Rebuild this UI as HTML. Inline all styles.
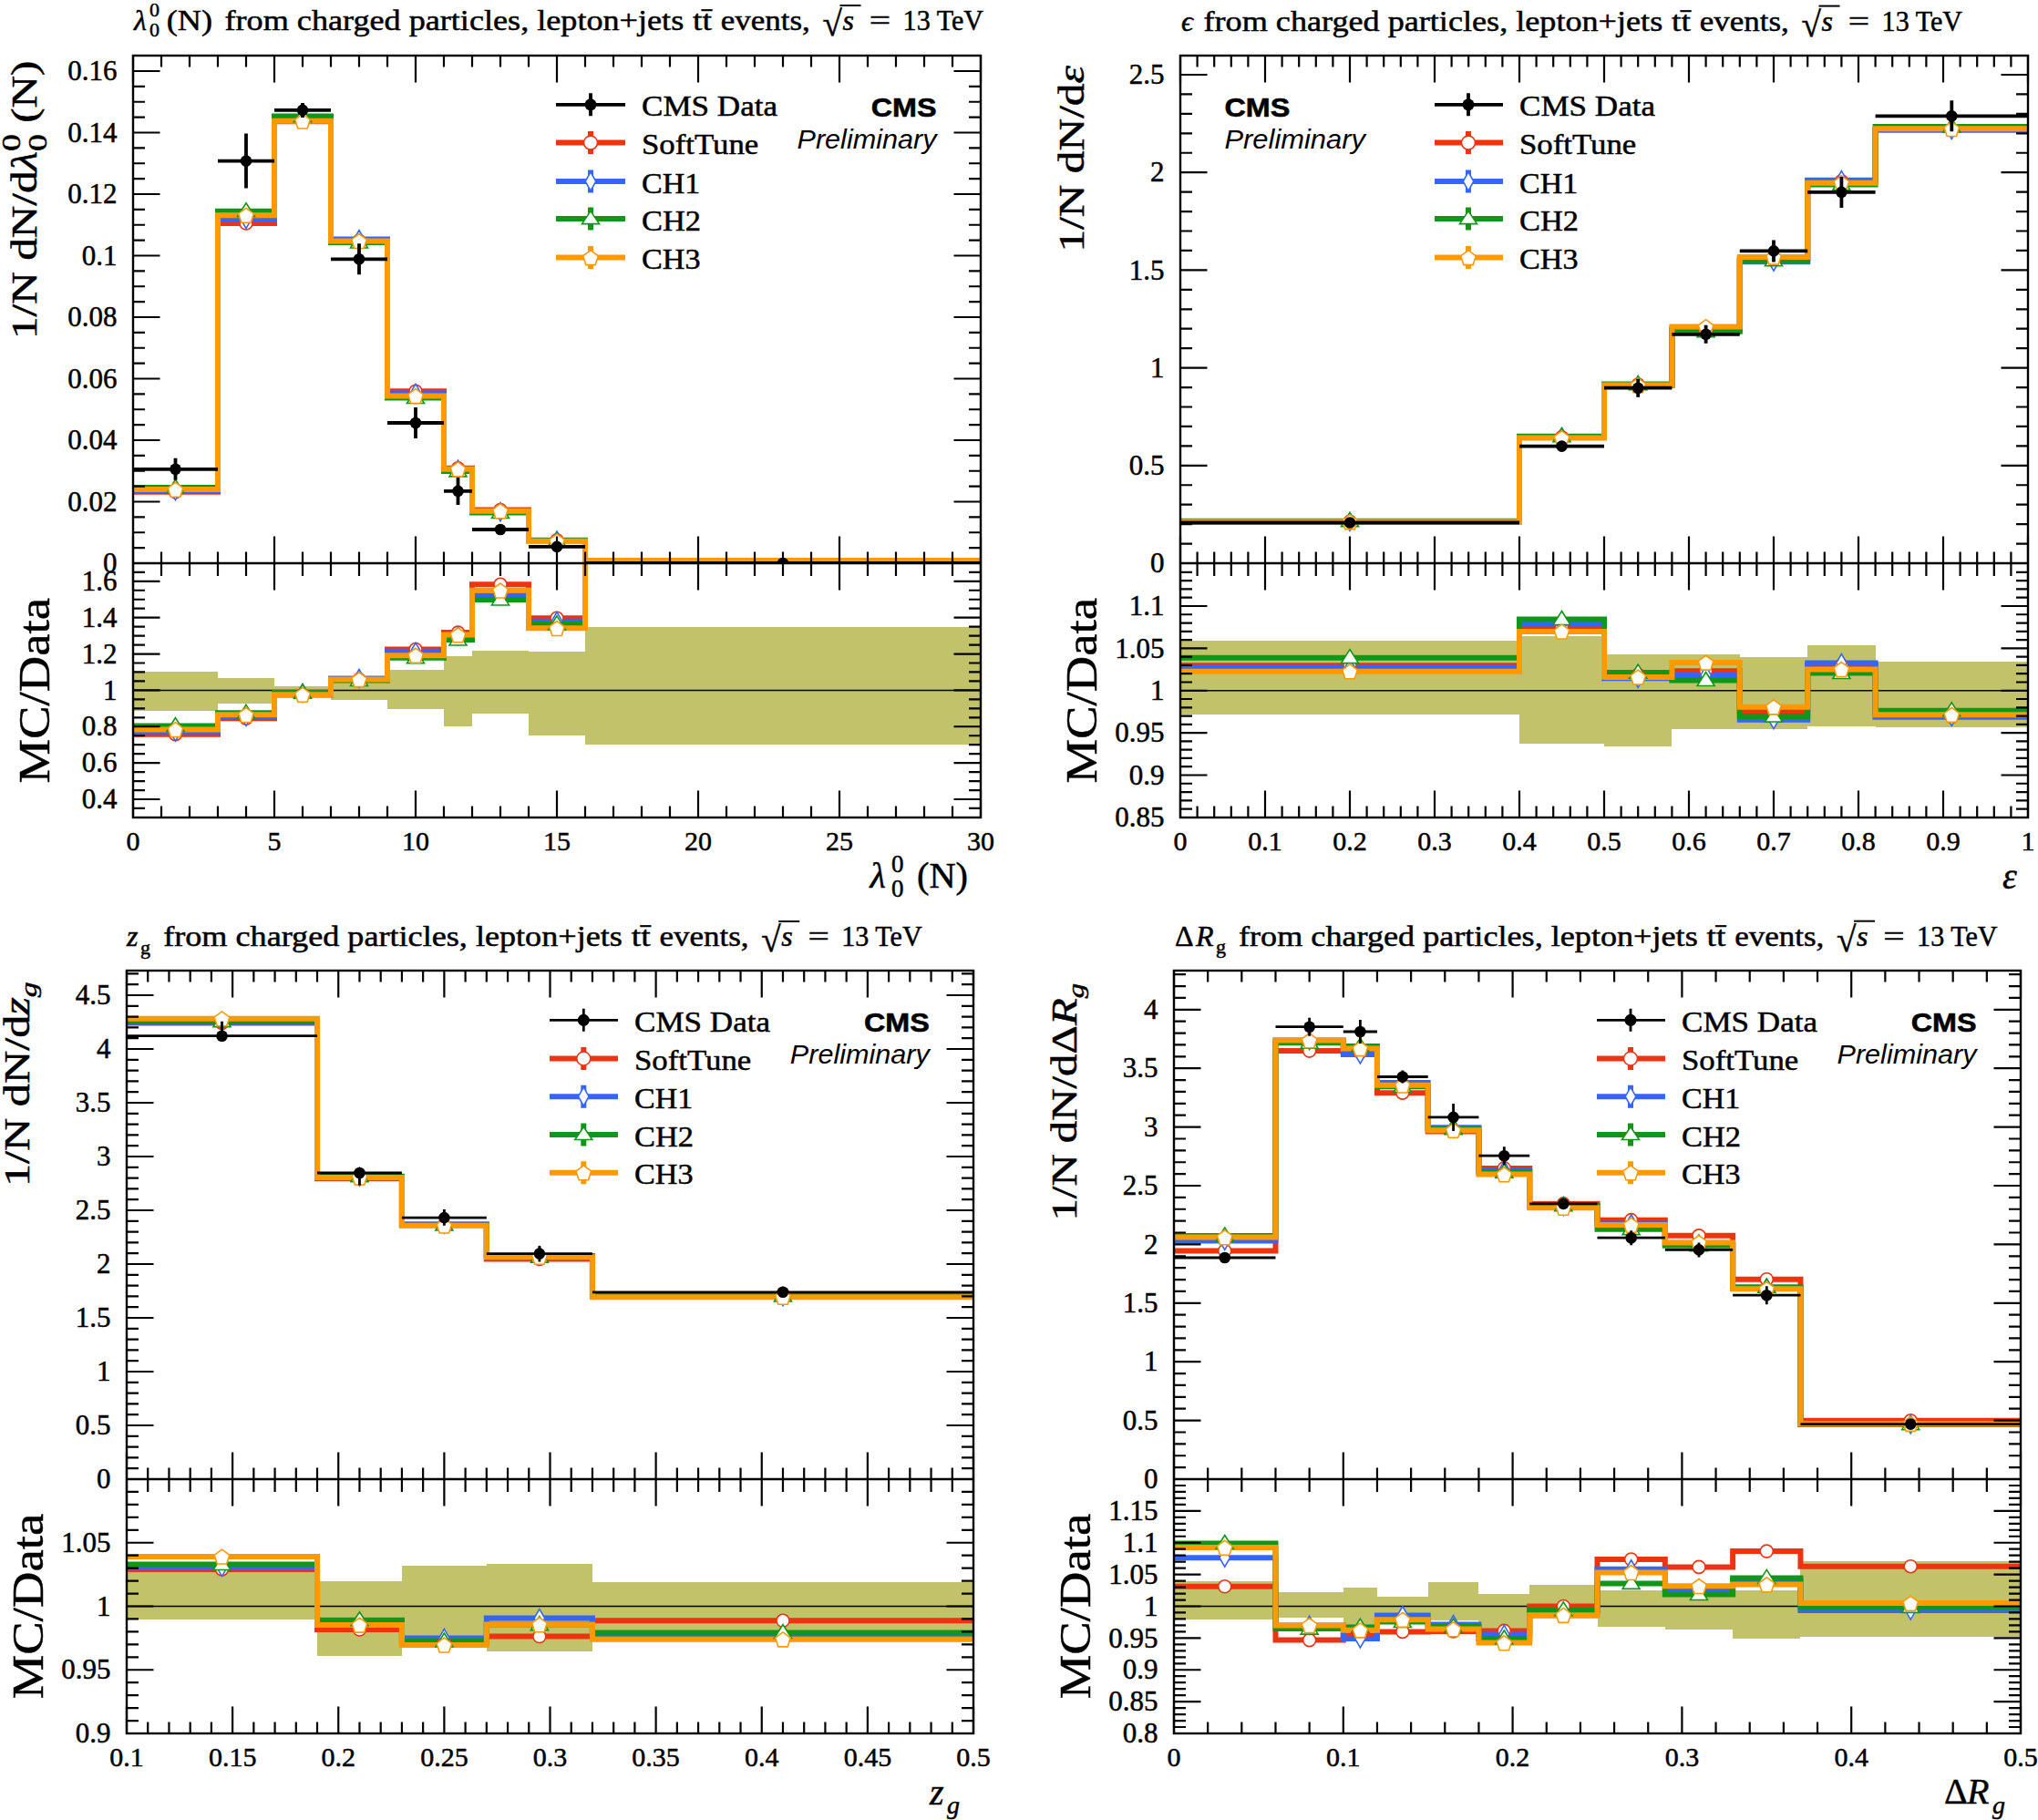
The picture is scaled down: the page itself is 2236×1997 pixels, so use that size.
<!DOCTYPE html><html><head><meta charset="utf-8"><style>html,body{margin:0;padding:0;background:#fff;overflow:hidden}svg{display:block} text{stroke:#000;stroke-width:0.5px}</style></head><body><svg width="2236" height="1997" viewBox="0 0 2236 1997">
<rect width="2236" height="1997" fill="#fff"/>
<clipPath id="cmTL"><rect x="146" y="61" width="930" height="557"/></clipPath>
<clipPath id="crTL"><rect x="146" y="618" width="930" height="279"/></clipPath>
<g clip-path="url(#crTL)" fill="#C2C26A" shape-rendering="crispEdges"><rect x="146" y="737.2" width="93" height="43.2"/><rect x="239" y="744.3" width="62" height="27.3"/><rect x="301" y="753" width="62" height="8"/><rect x="363" y="746" width="62" height="21.7"/><rect x="425" y="734.5" width="62" height="43"/><rect x="487" y="720" width="31" height="76.8"/><rect x="518" y="714.1" width="62" height="68.7"/><rect x="580" y="715" width="62" height="91.6"/><rect x="642" y="688.2" width="434" height="128.6"/></g>
<line x1="146" x2="1076" y1="757.4" y2="757.4" stroke="#000" stroke-width="1.5"/>
<path clip-path="url(#cmTL)" d="M146,539.83L239,539.83L239,245.02L301,245.02L301,133.33L363,133.33L363,264.28L425,264.28L425,429.35L487,429.35L487,513.79L518,513.79L518,559.45L580,559.45L580,592.71L642,592.71L642,614.96L1076,614.96" fill="none" stroke="#EE3311" stroke-width="6" stroke-linejoin="miter"/>
<path clip-path="url(#crTL)" d="M146,805.74L239,805.74L239,788.3L301,788.3L301,762.38L363,762.38L363,745.44L425,745.44L425,712.55L487,712.55L487,694.11L518,694.11L518,641.29L580,641.29L580,678.27L642,678.27L642,418L1076,418" fill="none" stroke="#EE3311" stroke-width="6" stroke-linejoin="miter"/>
<path clip-path="url(#cmTL)" d="M146,538.54L239,538.54L239,240.6L301,240.6L301,128.36L363,128.36L363,262.61L425,262.61L425,431.43L487,431.43L487,515.17L518,515.17L518,561.65L580,561.65L580,593.02L642,593.02L642,614.96L1076,614.96" fill="none" stroke="#3366FF" stroke-width="6" stroke-linejoin="miter"/>
<path clip-path="url(#crTL)" d="M146,803.25L239,803.25L239,786.3L301,786.3L301,760.39L363,760.39L363,744.44L425,744.44L425,715.24L487,715.24L487,697.6L518,697.6L518,653.15L580,653.15L580,681.65L642,681.65L642,418L1076,418" fill="none" stroke="#3366FF" stroke-width="6" stroke-linejoin="miter"/>
<path clip-path="url(#cmTL)" d="M146,535.08L239,535.08L239,231.78L301,231.78L301,127.61L363,127.61L363,265.95L425,265.95L425,436.51L487,436.51L487,516.91L518,516.91L518,562.54L580,562.54L580,593.31L642,593.31L642,614.96L1076,614.96" fill="none" stroke="#109618" stroke-width="6" stroke-linejoin="miter"/>
<path clip-path="url(#crTL)" d="M146,796.57L239,796.57L239,782.32L301,782.32L301,760.09L363,760.09L363,746.44L425,746.44L425,721.82L487,721.82L487,701.99L518,701.99L518,657.93L580,657.93L580,684.84L642,684.84L642,418L1076,418" fill="none" stroke="#109618" stroke-width="6" stroke-linejoin="miter"/>
<path clip-path="url(#cmTL)" d="M146,537.09L239,537.09L239,236.19L301,236.19L301,132.83L363,132.83L363,264.44L425,264.44L425,434.43L487,434.43L487,514.77L518,514.77L518,560.67L580,560.67L580,593.72L642,593.72L642,614.96L1076,614.96" fill="none" stroke="#FF9900" stroke-width="6" stroke-linejoin="miter"/>
<path clip-path="url(#crTL)" d="M146,800.46L239,800.46L239,784.31L301,784.31L301,762.18L363,762.18L363,745.54L425,745.54L425,719.13L487,719.13L487,696.6L518,696.6L518,647.87L580,647.87L580,689.33L642,689.33L642,418L1076,418" fill="none" stroke="#FF9900" stroke-width="6" stroke-linejoin="miter"/>
<g clip-path="url(#cmTL)"><circle cx="192.5" cy="539.83" r="7" fill="#fff" stroke="#EE3311" stroke-width="1.6"/><circle cx="270" cy="245.02" r="7" fill="#fff" stroke="#EE3311" stroke-width="1.6"/><circle cx="332" cy="133.33" r="7" fill="#fff" stroke="#EE3311" stroke-width="1.6"/><circle cx="394" cy="264.28" r="7" fill="#fff" stroke="#EE3311" stroke-width="1.6"/><circle cx="456" cy="429.35" r="7" fill="#fff" stroke="#EE3311" stroke-width="1.6"/><circle cx="502.5" cy="513.79" r="7" fill="#fff" stroke="#EE3311" stroke-width="1.6"/><circle cx="549" cy="559.45" r="7" fill="#fff" stroke="#EE3311" stroke-width="1.6"/><circle cx="611" cy="592.71" r="7" fill="#fff" stroke="#EE3311" stroke-width="1.6"/></g>
<g clip-path="url(#crTL)"><circle cx="192.5" cy="805.74" r="7" fill="#fff" stroke="#EE3311" stroke-width="1.6"/><circle cx="270" cy="788.3" r="7" fill="#fff" stroke="#EE3311" stroke-width="1.6"/><circle cx="332" cy="762.38" r="7" fill="#fff" stroke="#EE3311" stroke-width="1.6"/><circle cx="394" cy="745.44" r="7" fill="#fff" stroke="#EE3311" stroke-width="1.6"/><circle cx="456" cy="712.55" r="7" fill="#fff" stroke="#EE3311" stroke-width="1.6"/><circle cx="502.5" cy="694.11" r="7" fill="#fff" stroke="#EE3311" stroke-width="1.6"/><circle cx="549" cy="641.29" r="7" fill="#fff" stroke="#EE3311" stroke-width="1.6"/><circle cx="611" cy="678.27" r="7" fill="#fff" stroke="#EE3311" stroke-width="1.6"/></g>
<g clip-path="url(#cmTL)"><path d="M192.5,528.54L198.3,538.54L192.5,548.54L186.7,538.54Z" fill="#fff" stroke="#3366FF" stroke-width="1.6"/><path d="M270,230.6L275.8,240.6L270,250.6L264.2,240.6Z" fill="#fff" stroke="#3366FF" stroke-width="1.6"/><path d="M332,118.36L337.8,128.36L332,138.36L326.2,128.36Z" fill="#fff" stroke="#3366FF" stroke-width="1.6"/><path d="M394,252.61L399.8,262.61L394,272.61L388.2,262.61Z" fill="#fff" stroke="#3366FF" stroke-width="1.6"/><path d="M456,421.43L461.8,431.43L456,441.43L450.2,431.43Z" fill="#fff" stroke="#3366FF" stroke-width="1.6"/><path d="M502.5,505.17L508.3,515.17L502.5,525.17L496.7,515.17Z" fill="#fff" stroke="#3366FF" stroke-width="1.6"/><path d="M549,551.65L554.8,561.65L549,571.65L543.2,561.65Z" fill="#fff" stroke="#3366FF" stroke-width="1.6"/><path d="M611,583.02L616.8,593.02L611,603.02L605.2,593.02Z" fill="#fff" stroke="#3366FF" stroke-width="1.6"/></g>
<g clip-path="url(#crTL)"><path d="M192.5,793.25L198.3,803.25L192.5,813.25L186.7,803.25Z" fill="#fff" stroke="#3366FF" stroke-width="1.6"/><path d="M270,776.3L275.8,786.3L270,796.3L264.2,786.3Z" fill="#fff" stroke="#3366FF" stroke-width="1.6"/><path d="M332,750.39L337.8,760.39L332,770.39L326.2,760.39Z" fill="#fff" stroke="#3366FF" stroke-width="1.6"/><path d="M394,734.44L399.8,744.44L394,754.44L388.2,744.44Z" fill="#fff" stroke="#3366FF" stroke-width="1.6"/><path d="M456,705.24L461.8,715.24L456,725.24L450.2,715.24Z" fill="#fff" stroke="#3366FF" stroke-width="1.6"/><path d="M502.5,687.6L508.3,697.6L502.5,707.6L496.7,697.6Z" fill="#fff" stroke="#3366FF" stroke-width="1.6"/><path d="M549,643.15L554.8,653.15L549,663.15L543.2,653.15Z" fill="#fff" stroke="#3366FF" stroke-width="1.6"/><path d="M611,671.65L616.8,681.65L611,691.65L605.2,681.65Z" fill="#fff" stroke="#3366FF" stroke-width="1.6"/></g>
<g clip-path="url(#cmTL)"><path d="M192.5,526.08L202,541.08L183,541.08Z" fill="#fff" stroke="#109618" stroke-width="1.6"/><path d="M270,222.78L279.5,237.78L260.5,237.78Z" fill="#fff" stroke="#109618" stroke-width="1.6"/><path d="M332,118.61L341.5,133.61L322.5,133.61Z" fill="#fff" stroke="#109618" stroke-width="1.6"/><path d="M394,256.95L403.5,271.95L384.5,271.95Z" fill="#fff" stroke="#109618" stroke-width="1.6"/><path d="M456,427.51L465.5,442.51L446.5,442.51Z" fill="#fff" stroke="#109618" stroke-width="1.6"/><path d="M502.5,507.91L512,522.91L493,522.91Z" fill="#fff" stroke="#109618" stroke-width="1.6"/><path d="M549,553.54L558.5,568.54L539.5,568.54Z" fill="#fff" stroke="#109618" stroke-width="1.6"/><path d="M611,584.31L620.5,599.31L601.5,599.31Z" fill="#fff" stroke="#109618" stroke-width="1.6"/></g>
<g clip-path="url(#crTL)"><path d="M192.5,787.57L202,802.57L183,802.57Z" fill="#fff" stroke="#109618" stroke-width="1.6"/><path d="M270,773.32L279.5,788.32L260.5,788.32Z" fill="#fff" stroke="#109618" stroke-width="1.6"/><path d="M332,751.09L341.5,766.09L322.5,766.09Z" fill="#fff" stroke="#109618" stroke-width="1.6"/><path d="M394,737.44L403.5,752.44L384.5,752.44Z" fill="#fff" stroke="#109618" stroke-width="1.6"/><path d="M456,712.82L465.5,727.82L446.5,727.82Z" fill="#fff" stroke="#109618" stroke-width="1.6"/><path d="M502.5,692.99L512,707.99L493,707.99Z" fill="#fff" stroke="#109618" stroke-width="1.6"/><path d="M549,648.93L558.5,663.93L539.5,663.93Z" fill="#fff" stroke="#109618" stroke-width="1.6"/><path d="M611,675.84L620.5,690.84L601.5,690.84Z" fill="#fff" stroke="#109618" stroke-width="1.6"/></g>
<g clip-path="url(#cmTL)"><path d="M192.5,529.29L200.87,535.37L197.67,545.21L187.33,545.21L184.13,535.37Z" fill="#fff" stroke="#FF9900" stroke-width="1.6"/><path d="M270,228.39L278.37,234.47L275.17,244.31L264.83,244.31L261.63,234.47Z" fill="#fff" stroke="#FF9900" stroke-width="1.6"/><path d="M332,125.03L340.37,131.11L337.17,140.95L326.83,140.95L323.63,131.11Z" fill="#fff" stroke="#FF9900" stroke-width="1.6"/><path d="M394,256.64L402.37,262.73L399.17,272.56L388.83,272.56L385.63,262.73Z" fill="#fff" stroke="#FF9900" stroke-width="1.6"/><path d="M456,426.63L464.37,432.71L461.17,442.55L450.83,442.55L447.63,432.71Z" fill="#fff" stroke="#FF9900" stroke-width="1.6"/><path d="M502.5,506.97L510.87,513.06L507.67,522.89L497.33,522.89L494.13,513.06Z" fill="#fff" stroke="#FF9900" stroke-width="1.6"/><path d="M549,552.87L557.37,558.95L554.17,568.79L543.83,568.79L540.63,558.95Z" fill="#fff" stroke="#FF9900" stroke-width="1.6"/><path d="M611,585.92L619.37,592L616.17,601.84L605.83,601.84L602.63,592Z" fill="#fff" stroke="#FF9900" stroke-width="1.6"/></g>
<g clip-path="url(#crTL)"><path d="M192.5,792.66L200.87,798.74L197.67,808.57L187.33,808.57L184.13,798.74Z" fill="#fff" stroke="#FF9900" stroke-width="1.6"/><path d="M270,776.51L278.37,782.59L275.17,792.43L264.83,792.43L261.63,782.59Z" fill="#fff" stroke="#FF9900" stroke-width="1.6"/><path d="M332,754.38L340.37,760.46L337.17,770.3L326.83,770.3L323.63,760.46Z" fill="#fff" stroke="#FF9900" stroke-width="1.6"/><path d="M394,737.74L402.37,743.82L399.17,753.66L388.83,753.66L385.63,743.82Z" fill="#fff" stroke="#FF9900" stroke-width="1.6"/><path d="M456,711.33L464.37,717.41L461.17,727.25L450.83,727.25L447.63,717.41Z" fill="#fff" stroke="#FF9900" stroke-width="1.6"/><path d="M502.5,688.8L510.87,694.89L507.67,704.72L497.33,704.72L494.13,694.89Z" fill="#fff" stroke="#FF9900" stroke-width="1.6"/><path d="M549,640.07L557.37,646.15L554.17,655.99L543.83,655.99L540.63,646.15Z" fill="#fff" stroke="#FF9900" stroke-width="1.6"/><path d="M611,681.53L619.37,687.61L616.17,697.45L605.83,697.45L602.63,687.61Z" fill="#fff" stroke="#FF9900" stroke-width="1.6"/></g>
<g clip-path="url(#cmTL)"><path d="M146,514.8H239M192.5,502.8V526.8" stroke="#000" stroke-width="3.8" fill="none"/><circle cx="192.5" cy="514.8" r="6.3" fill="#000"/><path d="M239,176.6H301M270,146.6V206.6" stroke="#000" stroke-width="3.8" fill="none"/><circle cx="270" cy="176.6" r="6.3" fill="#000"/><path d="M301,120.9H363M332,112.9V128.9" stroke="#000" stroke-width="3.8" fill="none"/><circle cx="332" cy="120.9" r="6.3" fill="#000"/><path d="M363,284.3H425M394,267.3V301.3" stroke="#000" stroke-width="3.8" fill="none"/><circle cx="394" cy="284.3" r="6.3" fill="#000"/><path d="M425,464H487M456,447V481" stroke="#000" stroke-width="3.8" fill="none"/><circle cx="456" cy="464" r="6.3" fill="#000"/><path d="M487,538.9H518M502.5,523.9V553.9" stroke="#000" stroke-width="3.8" fill="none"/><circle cx="502.5" cy="538.9" r="6.3" fill="#000"/><path d="M518,581H580M549,576V586" stroke="#000" stroke-width="3.8" fill="none"/><circle cx="549" cy="581" r="6.3" fill="#000"/><path d="M580,599.9H642M611,595.9V603.9" stroke="#000" stroke-width="3.8" fill="none"/><circle cx="611" cy="599.9" r="6.3" fill="#000"/><path d="M642,618H1076M859,618V618" stroke="#000" stroke-width="3.8" fill="none"/><circle cx="859" cy="618" r="6.3" fill="#000"/></g>
<path d="M146,897V867.5M146,61V90.5M146,588.5V647.5M177,897V884.5M177,61V73.5M177,605.5V632M208,897V884.5M208,61V73.5M208,605.5V632M239,897V884.5M239,61V73.5M239,605.5V632M270,897V884.5M270,61V73.5M270,605.5V632M301,897V867.5M301,61V90.5M301,588.5V647.5M332,897V884.5M332,61V73.5M332,605.5V632M363,897V884.5M363,61V73.5M363,605.5V632M394,897V884.5M394,61V73.5M394,605.5V632M425,897V884.5M425,61V73.5M425,605.5V632M456,897V867.5M456,61V90.5M456,588.5V647.5M487,897V884.5M487,61V73.5M487,605.5V632M518,897V884.5M518,61V73.5M518,605.5V632M549,897V884.5M549,61V73.5M549,605.5V632M580,897V884.5M580,61V73.5M580,605.5V632M611,897V867.5M611,61V90.5M611,588.5V647.5M642,897V884.5M642,61V73.5M642,605.5V632M673,897V884.5M673,61V73.5M673,605.5V632M704,897V884.5M704,61V73.5M704,605.5V632M735,897V884.5M735,61V73.5M735,605.5V632M766,897V867.5M766,61V90.5M766,588.5V647.5M797,897V884.5M797,61V73.5M797,605.5V632M828,897V884.5M828,61V73.5M828,605.5V632M859,897V884.5M859,61V73.5M859,605.5V632M890,897V884.5M890,61V73.5M890,605.5V632M921,897V867.5M921,61V90.5M921,588.5V647.5M952,897V884.5M952,61V73.5M952,605.5V632M983,897V884.5M983,61V73.5M983,605.5V632M1014,897V884.5M1014,61V73.5M1014,605.5V632M1045,897V884.5M1045,61V73.5M1045,605.5V632M1076,897V867.5M1076,61V90.5M1076,588.5V647.5M146,601.12H159M1076,601.12H1063M146,584.25H159M1076,584.25H1063M146,567.38H159M1076,567.38H1063M146,550.5H175.5M1076,550.5H1046.5M146,533.62H159M1076,533.62H1063M146,516.75H159M1076,516.75H1063M146,499.88H159M1076,499.88H1063M146,483H175.5M1076,483H1046.5M146,466.12H159M1076,466.12H1063M146,449.25H159M1076,449.25H1063M146,432.38H159M1076,432.38H1063M146,415.5H175.5M1076,415.5H1046.5M146,398.62H159M1076,398.62H1063M146,381.75H159M1076,381.75H1063M146,364.88H159M1076,364.88H1063M146,348H175.5M1076,348H1046.5M146,331.12H159M1076,331.12H1063M146,314.25H159M1076,314.25H1063M146,297.38H159M1076,297.38H1063M146,280.5H175.5M1076,280.5H1046.5M146,263.62H159M1076,263.62H1063M146,246.75H159M1076,246.75H1063M146,229.88H159M1076,229.88H1063M146,213H175.5M1076,213H1046.5M146,196.12H159M1076,196.12H1063M146,179.25H159M1076,179.25H1063M146,162.37H159M1076,162.37H1063M146,145.5H175.5M1076,145.5H1046.5M146,128.63H159M1076,128.63H1063M146,111.75H159M1076,111.75H1063M146,94.88H159M1076,94.88H1063M146,78H175.5M1076,78H1046.5M146,886.96H159M1076,886.96H1063M146,877H175.5M1076,877H1046.5M146,867.03H159M1076,867.03H1063M146,857.06H159M1076,857.06H1063M146,847.1H159M1076,847.1H1063M146,837.13H175.5M1076,837.13H1046.5M146,827.17H159M1076,827.17H1063M146,817.2H159M1076,817.2H1063M146,807.23H159M1076,807.23H1063M146,797.27H175.5M1076,797.27H1046.5M146,787.3H159M1076,787.3H1063M146,777.33H159M1076,777.33H1063M146,767.37H159M1076,767.37H1063M146,757.4H175.5M1076,757.4H1046.5M146,747.43H159M1076,747.43H1063M146,737.47H159M1076,737.47H1063M146,727.5H159M1076,727.5H1063M146,717.53H175.5M1076,717.53H1046.5M146,707.57H159M1076,707.57H1063M146,697.6H159M1076,697.6H1063M146,687.63H159M1076,687.63H1063M146,677.67H175.5M1076,677.67H1046.5M146,667.7H159M1076,667.7H1063M146,657.74H159M1076,657.74H1063M146,647.77H159M1076,647.77H1063M146,637.8H175.5M1076,637.8H1046.5M146,627.84H159M1076,627.84H1063" stroke="#000" stroke-width="2.2" fill="none"/>
<rect x="146" y="61" width="930" height="836" fill="none" stroke="#000" stroke-width="2.4"/>
<line x1="146" x2="1076" y1="618" y2="618" stroke="#000" stroke-width="2.4"/>
<g style='font-family:"Liberation Serif",serif;font-size:31px'><text x="128.5" y="628.2" text-anchor="end">0</text><text x="128.5" y="560.7" text-anchor="end">0.02</text><text x="128.5" y="493.2" text-anchor="end">0.04</text><text x="128.5" y="425.7" text-anchor="end">0.06</text><text x="128.5" y="358.2" text-anchor="end">0.08</text><text x="128.5" y="290.7" text-anchor="end">0.1</text><text x="128.5" y="223.2" text-anchor="end">0.12</text><text x="128.5" y="155.7" text-anchor="end">0.14</text><text x="128.5" y="88.2" text-anchor="end">0.16</text><text x="128.5" y="887.2" text-anchor="end">0.4</text><text x="128.5" y="847.33" text-anchor="end">0.6</text><text x="128.5" y="807.47" text-anchor="end">0.8</text><text x="128.5" y="767.6" text-anchor="end">1</text><text x="128.5" y="727.73" text-anchor="end">1.2</text><text x="128.5" y="687.87" text-anchor="end">1.4</text><text x="128.5" y="648" text-anchor="end">1.6</text><text x="146" y="932.7" text-anchor="middle" style="font-size:30px">0</text><text x="301" y="932.7" text-anchor="middle" style="font-size:30px">5</text><text x="456" y="932.7" text-anchor="middle" style="font-size:30px">10</text><text x="611" y="932.7" text-anchor="middle" style="font-size:30px">15</text><text x="766" y="932.7" text-anchor="middle" style="font-size:30px">20</text><text x="921" y="932.7" text-anchor="middle" style="font-size:30px">25</text><text x="1076" y="932.7" text-anchor="middle" style="font-size:30px">30</text></g>
<clipPath id="cmTR"><rect x="1295" y="61" width="930" height="557"/></clipPath>
<clipPath id="crTR"><rect x="1295" y="618" width="930" height="279"/></clipPath>
<g clip-path="url(#crTR)" fill="#C2C26A" shape-rendering="crispEdges"><rect x="1295" y="702.9" width="372" height="80.8"/><rect x="1667" y="697.6" width="93" height="117.9"/><rect x="1760" y="717.8" width="74.4" height="100.8"/><rect x="1834.4" y="717.8" width="74.4" height="82"/><rect x="1908.8" y="721.2" width="74.4" height="78.6"/><rect x="1983.2" y="708.1" width="74.4" height="88.8"/><rect x="2057.6" y="726.1" width="167.4" height="71.8"/></g>
<line x1="1295" x2="2225" y1="757.75" y2="757.75" stroke="#000" stroke-width="1.5"/>
<path clip-path="url(#cmTR)" d="M1295,572.18L1667,572.18L1667,479.89L1760,479.89L1760,422.07L1834.4,422.07L1834.4,360.97L1908.8,360.97L1908.8,283.66L1983.2,283.66L1983.2,198.69L2057.6,198.69L2057.6,142.56L2225,142.56" fill="none" stroke="#EE3311" stroke-width="6" stroke-linejoin="miter"/>
<path clip-path="url(#crTR)" d="M1295,730.2L1667,730.2L1667,687.63L1760,687.63L1760,740.22L1834.4,740.22L1834.4,736.23L1908.8,736.23L1908.8,780.1L1983.2,780.1L1983.2,729.92L2057.6,729.92L2057.6,786.6L2225,786.6" fill="none" stroke="#EE3311" stroke-width="6" stroke-linejoin="miter"/>
<path clip-path="url(#cmTR)" d="M1295,572.31L1667,572.31L1667,479.47L1760,479.47L1760,422.91L1834.4,422.91L1834.4,362.25L1908.8,362.25L1908.8,287.19L1983.2,287.19L1983.2,197.67L2057.6,197.67L2057.6,142.51L2225,142.51" fill="none" stroke="#3366FF" stroke-width="6" stroke-linejoin="miter"/>
<path clip-path="url(#crTR)" d="M1295,732.99L1667,732.99L1667,684.57L1760,684.57L1760,744.3L1834.4,744.3L1834.4,740.96L1908.8,740.96L1908.8,789.66L1983.2,789.66L1983.2,727.61L2057.6,727.61L2057.6,786.5L2225,786.5" fill="none" stroke="#3366FF" stroke-width="6" stroke-linejoin="miter"/>
<path clip-path="url(#cmTR)" d="M1295,571.77L1667,571.77L1667,478.76L1760,478.76L1760,421.62L1834.4,421.62L1834.4,363.76L1908.8,363.76L1908.8,285.82L1983.2,285.82L1983.2,202.47L2057.6,202.47L2057.6,138.98L2225,138.98" fill="none" stroke="#109618" stroke-width="6" stroke-linejoin="miter"/>
<path clip-path="url(#crTR)" d="M1295,721.67L1667,721.67L1667,679.47L1760,679.47L1760,738.09L1834.4,738.09L1834.4,746.53L1908.8,746.53L1908.8,785.95L1983.2,785.95L1983.2,738.55L2057.6,738.55L2057.6,779.82L2225,779.82" fill="none" stroke="#109618" stroke-width="6" stroke-linejoin="miter"/>
<path clip-path="url(#cmTR)" d="M1295,572.49L1667,572.49L1667,480.62L1760,480.62L1760,422.62L1834.4,422.62L1834.4,358.49L1908.8,358.49L1908.8,282.05L1983.2,282.05L1983.2,200.64L2057.6,200.64L2057.6,141.33L2225,141.33" fill="none" stroke="#FF9900" stroke-width="6" stroke-linejoin="miter"/>
<path clip-path="url(#crTR)" d="M1295,736.7L1667,736.7L1667,692.92L1760,692.92L1760,742.91L1834.4,742.91L1834.4,727.05L1908.8,727.05L1908.8,775.74L1983.2,775.74L1983.2,734.38L2057.6,734.38L2057.6,784.28L2225,784.28" fill="none" stroke="#FF9900" stroke-width="6" stroke-linejoin="miter"/>
<g clip-path="url(#cmTR)"><circle cx="1481" cy="572.18" r="7" fill="#fff" stroke="#EE3311" stroke-width="1.6"/><circle cx="1713.5" cy="479.89" r="7" fill="#fff" stroke="#EE3311" stroke-width="1.6"/><circle cx="1797.2" cy="422.07" r="7" fill="#fff" stroke="#EE3311" stroke-width="1.6"/><circle cx="1871.6" cy="360.97" r="7" fill="#fff" stroke="#EE3311" stroke-width="1.6"/><circle cx="1946" cy="283.66" r="7" fill="#fff" stroke="#EE3311" stroke-width="1.6"/><circle cx="2020.4" cy="198.69" r="7" fill="#fff" stroke="#EE3311" stroke-width="1.6"/><circle cx="2141.3" cy="142.56" r="7" fill="#fff" stroke="#EE3311" stroke-width="1.6"/></g>
<g clip-path="url(#crTR)"><circle cx="1481" cy="730.2" r="7" fill="#fff" stroke="#EE3311" stroke-width="1.6"/><circle cx="1713.5" cy="687.63" r="7" fill="#fff" stroke="#EE3311" stroke-width="1.6"/><circle cx="1797.2" cy="740.22" r="7" fill="#fff" stroke="#EE3311" stroke-width="1.6"/><circle cx="1871.6" cy="736.23" r="7" fill="#fff" stroke="#EE3311" stroke-width="1.6"/><circle cx="1946" cy="780.1" r="7" fill="#fff" stroke="#EE3311" stroke-width="1.6"/><circle cx="2020.4" cy="729.92" r="7" fill="#fff" stroke="#EE3311" stroke-width="1.6"/><circle cx="2141.3" cy="786.6" r="7" fill="#fff" stroke="#EE3311" stroke-width="1.6"/></g>
<g clip-path="url(#cmTR)"><path d="M1481,562.31L1486.8,572.31L1481,582.31L1475.2,572.31Z" fill="#fff" stroke="#3366FF" stroke-width="1.6"/><path d="M1713.5,469.47L1719.3,479.47L1713.5,489.47L1707.7,479.47Z" fill="#fff" stroke="#3366FF" stroke-width="1.6"/><path d="M1797.2,412.91L1803,422.91L1797.2,432.91L1791.4,422.91Z" fill="#fff" stroke="#3366FF" stroke-width="1.6"/><path d="M1871.6,352.25L1877.4,362.25L1871.6,372.25L1865.8,362.25Z" fill="#fff" stroke="#3366FF" stroke-width="1.6"/><path d="M1946,277.19L1951.8,287.19L1946,297.19L1940.2,287.19Z" fill="#fff" stroke="#3366FF" stroke-width="1.6"/><path d="M2020.4,187.67L2026.2,197.67L2020.4,207.67L2014.6,197.67Z" fill="#fff" stroke="#3366FF" stroke-width="1.6"/><path d="M2141.3,132.51L2147.1,142.51L2141.3,152.51L2135.5,142.51Z" fill="#fff" stroke="#3366FF" stroke-width="1.6"/></g>
<g clip-path="url(#crTR)"><path d="M1481,722.99L1486.8,732.99L1481,742.99L1475.2,732.99Z" fill="#fff" stroke="#3366FF" stroke-width="1.6"/><path d="M1713.5,674.57L1719.3,684.57L1713.5,694.57L1707.7,684.57Z" fill="#fff" stroke="#3366FF" stroke-width="1.6"/><path d="M1797.2,734.3L1803,744.3L1797.2,754.3L1791.4,744.3Z" fill="#fff" stroke="#3366FF" stroke-width="1.6"/><path d="M1871.6,730.96L1877.4,740.96L1871.6,750.96L1865.8,740.96Z" fill="#fff" stroke="#3366FF" stroke-width="1.6"/><path d="M1946,779.66L1951.8,789.66L1946,799.66L1940.2,789.66Z" fill="#fff" stroke="#3366FF" stroke-width="1.6"/><path d="M2020.4,717.61L2026.2,727.61L2020.4,737.61L2014.6,727.61Z" fill="#fff" stroke="#3366FF" stroke-width="1.6"/><path d="M2141.3,776.5L2147.1,786.5L2141.3,796.5L2135.5,786.5Z" fill="#fff" stroke="#3366FF" stroke-width="1.6"/></g>
<g clip-path="url(#cmTR)"><path d="M1481,562.77L1490.5,577.77L1471.5,577.77Z" fill="#fff" stroke="#109618" stroke-width="1.6"/><path d="M1713.5,469.76L1723,484.76L1704,484.76Z" fill="#fff" stroke="#109618" stroke-width="1.6"/><path d="M1797.2,412.62L1806.7,427.62L1787.7,427.62Z" fill="#fff" stroke="#109618" stroke-width="1.6"/><path d="M1871.6,354.76L1881.1,369.76L1862.1,369.76Z" fill="#fff" stroke="#109618" stroke-width="1.6"/><path d="M1946,276.82L1955.5,291.82L1936.5,291.82Z" fill="#fff" stroke="#109618" stroke-width="1.6"/><path d="M2020.4,193.47L2029.9,208.47L2010.9,208.47Z" fill="#fff" stroke="#109618" stroke-width="1.6"/><path d="M2141.3,129.98L2150.8,144.98L2131.8,144.98Z" fill="#fff" stroke="#109618" stroke-width="1.6"/></g>
<g clip-path="url(#crTR)"><path d="M1481,712.67L1490.5,727.67L1471.5,727.67Z" fill="#fff" stroke="#109618" stroke-width="1.6"/><path d="M1713.5,670.47L1723,685.47L1704,685.47Z" fill="#fff" stroke="#109618" stroke-width="1.6"/><path d="M1797.2,729.09L1806.7,744.09L1787.7,744.09Z" fill="#fff" stroke="#109618" stroke-width="1.6"/><path d="M1871.6,737.53L1881.1,752.53L1862.1,752.53Z" fill="#fff" stroke="#109618" stroke-width="1.6"/><path d="M1946,776.95L1955.5,791.95L1936.5,791.95Z" fill="#fff" stroke="#109618" stroke-width="1.6"/><path d="M2020.4,729.55L2029.9,744.55L2010.9,744.55Z" fill="#fff" stroke="#109618" stroke-width="1.6"/><path d="M2141.3,770.82L2150.8,785.82L2131.8,785.82Z" fill="#fff" stroke="#109618" stroke-width="1.6"/></g>
<g clip-path="url(#cmTR)"><path d="M1481,564.69L1489.37,570.77L1486.17,580.61L1475.83,580.61L1472.63,570.77Z" fill="#fff" stroke="#FF9900" stroke-width="1.6"/><path d="M1713.5,472.82L1721.87,478.91L1718.67,488.74L1708.33,488.74L1705.13,478.91Z" fill="#fff" stroke="#FF9900" stroke-width="1.6"/><path d="M1797.2,414.82L1805.57,420.9L1802.37,430.74L1792.03,430.74L1788.83,420.9Z" fill="#fff" stroke="#FF9900" stroke-width="1.6"/><path d="M1871.6,350.69L1879.97,356.77L1876.77,366.6L1866.43,366.6L1863.23,356.77Z" fill="#fff" stroke="#FF9900" stroke-width="1.6"/><path d="M1946,274.25L1954.37,280.33L1951.17,290.17L1940.83,290.17L1937.63,280.33Z" fill="#fff" stroke="#FF9900" stroke-width="1.6"/><path d="M2020.4,192.84L2028.77,198.92L2025.57,208.76L2015.23,208.76L2012.03,198.92Z" fill="#fff" stroke="#FF9900" stroke-width="1.6"/><path d="M2141.3,133.53L2149.67,139.61L2146.47,149.45L2136.13,149.45L2132.93,139.61Z" fill="#fff" stroke="#FF9900" stroke-width="1.6"/></g>
<g clip-path="url(#crTR)"><path d="M1481,728.9L1489.37,734.98L1486.17,744.82L1475.83,744.82L1472.63,734.98Z" fill="#fff" stroke="#FF9900" stroke-width="1.6"/><path d="M1713.5,685.12L1721.87,691.2L1718.67,701.04L1708.33,701.04L1705.13,691.2Z" fill="#fff" stroke="#FF9900" stroke-width="1.6"/><path d="M1797.2,735.11L1805.57,741.19L1802.37,751.03L1792.03,751.03L1788.83,741.19Z" fill="#fff" stroke="#FF9900" stroke-width="1.6"/><path d="M1871.6,719.25L1879.97,725.33L1876.77,735.17L1866.43,735.17L1863.23,725.33Z" fill="#fff" stroke="#FF9900" stroke-width="1.6"/><path d="M1946,767.94L1954.37,774.02L1951.17,783.86L1940.83,783.86L1937.63,774.02Z" fill="#fff" stroke="#FF9900" stroke-width="1.6"/><path d="M2020.4,726.58L2028.77,732.66L2025.57,742.5L2015.23,742.5L2012.03,732.66Z" fill="#fff" stroke="#FF9900" stroke-width="1.6"/><path d="M2141.3,776.48L2149.67,782.56L2146.47,792.4L2136.13,792.4L2132.93,782.56Z" fill="#fff" stroke="#FF9900" stroke-width="1.6"/></g>
<g clip-path="url(#cmTR)"><path d="M1295,573.5H1667M1481,570.5V576.5" stroke="#000" stroke-width="3.8" fill="none"/><circle cx="1481" cy="573.5" r="6.3" fill="#000"/><path d="M1667,489.6H1760M1713.5,484.6V494.6" stroke="#000" stroke-width="3.8" fill="none"/><circle cx="1713.5" cy="489.6" r="6.3" fill="#000"/><path d="M1760,425.7H1834.4M1797.2,415.7V435.7" stroke="#000" stroke-width="3.8" fill="none"/><circle cx="1797.2" cy="425.7" r="6.3" fill="#000"/><path d="M1834.4,366.8H1908.8M1871.6,356.8V376.8" stroke="#000" stroke-width="3.8" fill="none"/><circle cx="1871.6" cy="366.8" r="6.3" fill="#000"/><path d="M1908.8,275.4H1983.2M1946,263.4V287.4" stroke="#000" stroke-width="3.8" fill="none"/><circle cx="1946" cy="275.4" r="6.3" fill="#000"/><path d="M1983.2,210.9H2057.6M2020.4,193.9V227.9" stroke="#000" stroke-width="3.8" fill="none"/><circle cx="2020.4" cy="210.9" r="6.3" fill="#000"/><path d="M2057.6,127.3H2225M2141.3,110.3V144.3" stroke="#000" stroke-width="3.8" fill="none"/><circle cx="2141.3" cy="127.3" r="6.3" fill="#000"/></g>
<path d="M1295,897V867.5M1295,61V90.5M1295,588.5V647.5M1313.6,897V884.5M1313.6,61V73.5M1313.6,605.5V632M1332.2,897V884.5M1332.2,61V73.5M1332.2,605.5V632M1350.8,897V884.5M1350.8,61V73.5M1350.8,605.5V632M1369.4,897V884.5M1369.4,61V73.5M1369.4,605.5V632M1388,897V867.5M1388,61V90.5M1388,588.5V647.5M1406.6,897V884.5M1406.6,61V73.5M1406.6,605.5V632M1425.2,897V884.5M1425.2,61V73.5M1425.2,605.5V632M1443.8,897V884.5M1443.8,61V73.5M1443.8,605.5V632M1462.4,897V884.5M1462.4,61V73.5M1462.4,605.5V632M1481,897V867.5M1481,61V90.5M1481,588.5V647.5M1499.6,897V884.5M1499.6,61V73.5M1499.6,605.5V632M1518.2,897V884.5M1518.2,61V73.5M1518.2,605.5V632M1536.8,897V884.5M1536.8,61V73.5M1536.8,605.5V632M1555.4,897V884.5M1555.4,61V73.5M1555.4,605.5V632M1574,897V867.5M1574,61V90.5M1574,588.5V647.5M1592.6,897V884.5M1592.6,61V73.5M1592.6,605.5V632M1611.2,897V884.5M1611.2,61V73.5M1611.2,605.5V632M1629.8,897V884.5M1629.8,61V73.5M1629.8,605.5V632M1648.4,897V884.5M1648.4,61V73.5M1648.4,605.5V632M1667,897V867.5M1667,61V90.5M1667,588.5V647.5M1685.6,897V884.5M1685.6,61V73.5M1685.6,605.5V632M1704.2,897V884.5M1704.2,61V73.5M1704.2,605.5V632M1722.8,897V884.5M1722.8,61V73.5M1722.8,605.5V632M1741.4,897V884.5M1741.4,61V73.5M1741.4,605.5V632M1760,897V867.5M1760,61V90.5M1760,588.5V647.5M1778.6,897V884.5M1778.6,61V73.5M1778.6,605.5V632M1797.2,897V884.5M1797.2,61V73.5M1797.2,605.5V632M1815.8,897V884.5M1815.8,61V73.5M1815.8,605.5V632M1834.4,897V884.5M1834.4,61V73.5M1834.4,605.5V632M1853,897V867.5M1853,61V90.5M1853,588.5V647.5M1871.6,897V884.5M1871.6,61V73.5M1871.6,605.5V632M1890.2,897V884.5M1890.2,61V73.5M1890.2,605.5V632M1908.8,897V884.5M1908.8,61V73.5M1908.8,605.5V632M1927.4,897V884.5M1927.4,61V73.5M1927.4,605.5V632M1946,897V867.5M1946,61V90.5M1946,588.5V647.5M1964.6,897V884.5M1964.6,61V73.5M1964.6,605.5V632M1983.2,897V884.5M1983.2,61V73.5M1983.2,605.5V632M2001.8,897V884.5M2001.8,61V73.5M2001.8,605.5V632M2020.4,897V884.5M2020.4,61V73.5M2020.4,605.5V632M2039,897V867.5M2039,61V90.5M2039,588.5V647.5M2057.6,897V884.5M2057.6,61V73.5M2057.6,605.5V632M2076.2,897V884.5M2076.2,61V73.5M2076.2,605.5V632M2094.8,897V884.5M2094.8,61V73.5M2094.8,605.5V632M2113.4,897V884.5M2113.4,61V73.5M2113.4,605.5V632M2132,897V867.5M2132,61V90.5M2132,588.5V647.5M2150.6,897V884.5M2150.6,61V73.5M2150.6,605.5V632M2169.2,897V884.5M2169.2,61V73.5M2169.2,605.5V632M2187.8,897V884.5M2187.8,61V73.5M2187.8,605.5V632M2206.4,897V884.5M2206.4,61V73.5M2206.4,605.5V632M2225,897V867.5M2225,61V90.5M2225,588.5V647.5M1295,596.56H1308M2225,596.56H2212M1295,575.12H1308M2225,575.12H2212M1295,553.68H1308M2225,553.68H2212M1295,532.24H1308M2225,532.24H2212M1295,510.8H1324.5M2225,510.8H2195.5M1295,489.36H1308M2225,489.36H2212M1295,467.92H1308M2225,467.92H2212M1295,446.48H1308M2225,446.48H2212M1295,425.04H1308M2225,425.04H2212M1295,403.6H1324.5M2225,403.6H2195.5M1295,382.16H1308M2225,382.16H2212M1295,360.72H1308M2225,360.72H2212M1295,339.28H1308M2225,339.28H2212M1295,317.84H1308M2225,317.84H2212M1295,296.4H1324.5M2225,296.4H2195.5M1295,274.96H1308M2225,274.96H2212M1295,253.52H1308M2225,253.52H2212M1295,232.08H1308M2225,232.08H2212M1295,210.64H1308M2225,210.64H2212M1295,189.2H1324.5M2225,189.2H2195.5M1295,167.76H1308M2225,167.76H2212M1295,146.32H1308M2225,146.32H2212M1295,124.88H1308M2225,124.88H2212M1295,103.44H1308M2225,103.44H2212M1295,82H1324.5M2225,82H2195.5M1295,887.6H1308M2225,887.6H2212M1295,878.33H1308M2225,878.33H2212M1295,869.05H1308M2225,869.05H2212M1295,859.77H1308M2225,859.77H2212M1295,850.5H1324.5M2225,850.5H2195.5M1295,841.22H1308M2225,841.22H2212M1295,831.95H1308M2225,831.95H2212M1295,822.67H1308M2225,822.67H2212M1295,813.4H1308M2225,813.4H2212M1295,804.12H1324.5M2225,804.12H2195.5M1295,794.85H1308M2225,794.85H2212M1295,785.58H1308M2225,785.58H2212M1295,776.3H1308M2225,776.3H2212M1295,767.02H1308M2225,767.02H2212M1295,757.75H1324.5M2225,757.75H2195.5M1295,748.48H1308M2225,748.48H2212M1295,739.2H1308M2225,739.2H2212M1295,729.92H1308M2225,729.92H2212M1295,720.65H1308M2225,720.65H2212M1295,711.38H1324.5M2225,711.38H2195.5M1295,702.1H1308M2225,702.1H2212M1295,692.82H1308M2225,692.82H2212M1295,683.55H1308M2225,683.55H2212M1295,674.27H1308M2225,674.27H2212M1295,665H1324.5M2225,665H2195.5M1295,655.72H1308M2225,655.72H2212M1295,646.45H1308M2225,646.45H2212M1295,637.17H1308M2225,637.17H2212M1295,627.9H1308M2225,627.9H2212" stroke="#000" stroke-width="2.2" fill="none"/>
<rect x="1295" y="61" width="930" height="836" fill="none" stroke="#000" stroke-width="2.4"/>
<line x1="1295" x2="2225" y1="618" y2="618" stroke="#000" stroke-width="2.4"/>
<g style='font-family:"Liberation Serif",serif;font-size:31px'><text x="1277.5" y="628.2" text-anchor="end">0</text><text x="1277.5" y="521" text-anchor="end">0.5</text><text x="1277.5" y="413.8" text-anchor="end">1</text><text x="1277.5" y="306.6" text-anchor="end">1.5</text><text x="1277.5" y="199.4" text-anchor="end">2</text><text x="1277.5" y="92.2" text-anchor="end">2.5</text><text x="1277.5" y="907.08" text-anchor="end">0.85</text><text x="1277.5" y="860.7" text-anchor="end">0.9</text><text x="1277.5" y="814.33" text-anchor="end">0.95</text><text x="1277.5" y="767.95" text-anchor="end">1</text><text x="1277.5" y="721.58" text-anchor="end">1.05</text><text x="1277.5" y="675.2" text-anchor="end">1.1</text><text x="1295" y="932.7" text-anchor="middle" style="font-size:30px">0</text><text x="1388" y="932.7" text-anchor="middle" style="font-size:30px">0.1</text><text x="1481" y="932.7" text-anchor="middle" style="font-size:30px">0.2</text><text x="1574" y="932.7" text-anchor="middle" style="font-size:30px">0.3</text><text x="1667" y="932.7" text-anchor="middle" style="font-size:30px">0.4</text><text x="1760" y="932.7" text-anchor="middle" style="font-size:30px">0.5</text><text x="1853" y="932.7" text-anchor="middle" style="font-size:30px">0.6</text><text x="1946" y="932.7" text-anchor="middle" style="font-size:30px">0.7</text><text x="2039" y="932.7" text-anchor="middle" style="font-size:30px">0.8</text><text x="2132" y="932.7" text-anchor="middle" style="font-size:30px">0.9</text><text x="2225" y="932.7" text-anchor="middle" style="font-size:30px">1</text></g>
<clipPath id="cmBL"><rect x="139" y="1065" width="929" height="558"/></clipPath>
<clipPath id="crBL"><rect x="139" y="1623" width="929" height="279"/></clipPath>
<g clip-path="url(#crBL)" fill="#C2C26A" shape-rendering="crispEdges"><rect x="139" y="1721.9" width="209.02" height="54.6"/><rect x="348.02" y="1735.2" width="92.9" height="81.7"/><rect x="440.93" y="1717.9" width="92.9" height="87.1"/><rect x="533.83" y="1716" width="116.12" height="96"/><rect x="649.95" y="1735.8" width="418.05" height="64.2"/></g>
<line x1="139" x2="1068" y1="1762.5" y2="1762.5" stroke="#000" stroke-width="1.5"/>
<path clip-path="url(#cmBL)" d="M139,1122.55L348.02,1122.55L348.02,1293.15L440.93,1293.15L440.93,1344.22L533.83,1344.22L533.83,1381.46L649.95,1381.46L649.95,1420.12L1068,1420.12" fill="none" stroke="#EE3311" stroke-width="6" stroke-linejoin="miter"/>
<path clip-path="url(#crBL)" d="M139,1721.91L348.02,1721.91L348.02,1788.03L440.93,1788.03L440.93,1801.98L533.83,1801.98L533.83,1795.56L649.95,1795.56L649.95,1778.26L1068,1778.26" fill="none" stroke="#EE3311" stroke-width="6" stroke-linejoin="miter"/>
<path clip-path="url(#cmBL)" d="M139,1121.72L348.02,1121.72L348.02,1291.2L440.93,1291.2L440.93,1343.27L533.83,1343.27L533.83,1377.93L649.95,1377.93L649.95,1422.54L1068,1422.54" fill="none" stroke="#3366FF" stroke-width="6" stroke-linejoin="miter"/>
<path clip-path="url(#crBL)" d="M139,1719.53L348.02,1719.53L348.02,1779.94L440.93,1779.94L440.93,1797.38L533.83,1797.38L533.83,1775.61L649.95,1775.61L649.95,1794.72L1068,1794.72" fill="none" stroke="#3366FF" stroke-width="6" stroke-linejoin="miter"/>
<path clip-path="url(#cmBL)" d="M139,1120.65L348.02,1120.65L348.02,1290.66L440.93,1290.66L440.93,1344.02L533.83,1344.02L533.83,1379.16L649.95,1379.16L649.95,1422.07L1068,1422.07" fill="none" stroke="#109618" stroke-width="6" stroke-linejoin="miter"/>
<path clip-path="url(#crBL)" d="M139,1716.47L348.02,1716.47L348.02,1777.71L440.93,1777.71L440.93,1801L533.83,1801L533.83,1782.59L649.95,1782.59L649.95,1791.52L1068,1791.52" fill="none" stroke="#109618" stroke-width="6" stroke-linejoin="miter"/>
<path clip-path="url(#cmBL)" d="M139,1117.69L348.02,1117.69L348.02,1291.94L440.93,1291.94L440.93,1344.82L533.83,1344.82L533.83,1379.16L649.95,1379.16L649.95,1423.14L1068,1423.14" fill="none" stroke="#FF9900" stroke-width="6" stroke-linejoin="miter"/>
<path clip-path="url(#crBL)" d="M139,1707.96L348.02,1707.96L348.02,1783.01L440.93,1783.01L440.93,1804.91L533.83,1804.91L533.83,1782.59L649.95,1782.59L649.95,1798.77L1068,1798.77" fill="none" stroke="#FF9900" stroke-width="6" stroke-linejoin="miter"/>
<g clip-path="url(#cmBL)"><circle cx="243.51" cy="1122.55" r="7" fill="#fff" stroke="#EE3311" stroke-width="1.6"/><circle cx="394.47" cy="1293.15" r="7" fill="#fff" stroke="#EE3311" stroke-width="1.6"/><circle cx="487.38" cy="1344.22" r="7" fill="#fff" stroke="#EE3311" stroke-width="1.6"/><circle cx="591.89" cy="1381.46" r="7" fill="#fff" stroke="#EE3311" stroke-width="1.6"/><circle cx="858.97" cy="1420.12" r="7" fill="#fff" stroke="#EE3311" stroke-width="1.6"/></g>
<g clip-path="url(#crBL)"><circle cx="243.51" cy="1721.91" r="7" fill="#fff" stroke="#EE3311" stroke-width="1.6"/><circle cx="394.47" cy="1788.03" r="7" fill="#fff" stroke="#EE3311" stroke-width="1.6"/><circle cx="487.38" cy="1801.98" r="7" fill="#fff" stroke="#EE3311" stroke-width="1.6"/><circle cx="591.89" cy="1795.56" r="7" fill="#fff" stroke="#EE3311" stroke-width="1.6"/><circle cx="858.97" cy="1778.26" r="7" fill="#fff" stroke="#EE3311" stroke-width="1.6"/></g>
<g clip-path="url(#cmBL)"><path d="M243.51,1111.72L249.31,1121.72L243.51,1131.72L237.71,1121.72Z" fill="#fff" stroke="#3366FF" stroke-width="1.6"/><path d="M394.47,1281.2L400.27,1291.2L394.47,1301.2L388.67,1291.2Z" fill="#fff" stroke="#3366FF" stroke-width="1.6"/><path d="M487.38,1333.27L493.18,1343.27L487.38,1353.27L481.57,1343.27Z" fill="#fff" stroke="#3366FF" stroke-width="1.6"/><path d="M591.89,1367.93L597.69,1377.93L591.89,1387.93L586.09,1377.93Z" fill="#fff" stroke="#3366FF" stroke-width="1.6"/><path d="M858.97,1412.54L864.77,1422.54L858.97,1432.54L853.17,1422.54Z" fill="#fff" stroke="#3366FF" stroke-width="1.6"/></g>
<g clip-path="url(#crBL)"><path d="M243.51,1709.53L249.31,1719.53L243.51,1729.53L237.71,1719.53Z" fill="#fff" stroke="#3366FF" stroke-width="1.6"/><path d="M394.47,1769.94L400.27,1779.94L394.47,1789.94L388.67,1779.94Z" fill="#fff" stroke="#3366FF" stroke-width="1.6"/><path d="M487.38,1787.38L493.18,1797.38L487.38,1807.38L481.57,1797.38Z" fill="#fff" stroke="#3366FF" stroke-width="1.6"/><path d="M591.89,1765.61L597.69,1775.61L591.89,1785.61L586.09,1775.61Z" fill="#fff" stroke="#3366FF" stroke-width="1.6"/><path d="M858.97,1784.72L864.77,1794.72L858.97,1804.72L853.17,1794.72Z" fill="#fff" stroke="#3366FF" stroke-width="1.6"/></g>
<g clip-path="url(#cmBL)"><path d="M243.51,1111.65L253.01,1126.65L234.01,1126.65Z" fill="#fff" stroke="#109618" stroke-width="1.6"/><path d="M394.47,1281.66L403.97,1296.66L384.97,1296.66Z" fill="#fff" stroke="#109618" stroke-width="1.6"/><path d="M487.38,1335.02L496.88,1350.02L477.88,1350.02Z" fill="#fff" stroke="#109618" stroke-width="1.6"/><path d="M591.89,1370.16L601.39,1385.16L582.39,1385.16Z" fill="#fff" stroke="#109618" stroke-width="1.6"/><path d="M858.97,1413.07L868.47,1428.07L849.47,1428.07Z" fill="#fff" stroke="#109618" stroke-width="1.6"/></g>
<g clip-path="url(#crBL)"><path d="M243.51,1707.47L253.01,1722.47L234.01,1722.47Z" fill="#fff" stroke="#109618" stroke-width="1.6"/><path d="M394.47,1768.71L403.97,1783.71L384.97,1783.71Z" fill="#fff" stroke="#109618" stroke-width="1.6"/><path d="M487.38,1792L496.88,1807L477.88,1807Z" fill="#fff" stroke="#109618" stroke-width="1.6"/><path d="M591.89,1773.59L601.39,1788.59L582.39,1788.59Z" fill="#fff" stroke="#109618" stroke-width="1.6"/><path d="M858.97,1782.52L868.47,1797.52L849.47,1797.52Z" fill="#fff" stroke="#109618" stroke-width="1.6"/></g>
<g clip-path="url(#cmBL)"><path d="M243.51,1109.89L251.88,1115.97L248.69,1125.81L238.34,1125.81L235.14,1115.97Z" fill="#fff" stroke="#FF9900" stroke-width="1.6"/><path d="M394.47,1284.14L402.84,1290.22L399.65,1300.06L389.3,1300.06L386.11,1290.22Z" fill="#fff" stroke="#FF9900" stroke-width="1.6"/><path d="M487.38,1337.02L495.74,1343.1L492.55,1352.94L482.2,1352.94L479.01,1343.1Z" fill="#fff" stroke="#FF9900" stroke-width="1.6"/><path d="M591.89,1371.36L600.26,1377.44L597.06,1387.28L586.71,1387.28L583.52,1377.44Z" fill="#fff" stroke="#FF9900" stroke-width="1.6"/><path d="M858.97,1415.34L867.34,1421.42L864.15,1431.25L853.8,1431.25L850.61,1421.42Z" fill="#fff" stroke="#FF9900" stroke-width="1.6"/></g>
<g clip-path="url(#crBL)"><path d="M243.51,1700.16L251.88,1706.24L248.69,1716.07L238.34,1716.07L235.14,1706.24Z" fill="#fff" stroke="#FF9900" stroke-width="1.6"/><path d="M394.47,1775.21L402.84,1781.29L399.65,1791.13L389.3,1791.13L386.11,1781.29Z" fill="#fff" stroke="#FF9900" stroke-width="1.6"/><path d="M487.38,1797.11L495.74,1803.19L492.55,1813.03L482.2,1813.03L479.01,1803.19Z" fill="#fff" stroke="#FF9900" stroke-width="1.6"/><path d="M591.89,1774.79L600.26,1780.87L597.06,1790.71L586.71,1790.71L583.52,1780.87Z" fill="#fff" stroke="#FF9900" stroke-width="1.6"/><path d="M858.97,1790.97L867.34,1797.05L864.15,1806.89L853.8,1806.89L850.61,1797.05Z" fill="#fff" stroke="#FF9900" stroke-width="1.6"/></g>
<g clip-path="url(#cmBL)"><path d="M139,1136.7H348.02M243.51,1120.7V1140.7" stroke="#000" stroke-width="2.8" fill="none"/><circle cx="243.51" cy="1136.7" r="6.3" fill="#000"/><path d="M348.02,1287H440.93M394.47,1283V1300.5" stroke="#000" stroke-width="2.8" fill="none"/><circle cx="394.47" cy="1287" r="6.3" fill="#000"/><path d="M440.93,1336.1H533.83M487.38,1327.1V1344.7" stroke="#000" stroke-width="2.8" fill="none"/><circle cx="487.38" cy="1336.1" r="6.3" fill="#000"/><path d="M533.83,1375.6H649.95M591.89,1367V1384.6" stroke="#000" stroke-width="2.8" fill="none"/><circle cx="591.89" cy="1375.6" r="6.3" fill="#000"/><path d="M649.95,1417.8H1068M858.97,1414.8V1420.8" stroke="#000" stroke-width="2.8" fill="none"/><circle cx="858.97" cy="1417.8" r="6.3" fill="#000"/></g>
<path d="M139,1902V1872.5M139,1065V1094.5M139,1593.5V1652.5M162.22,1902V1889.5M162.22,1065V1077.5M162.22,1610.5V1637M185.45,1902V1889.5M185.45,1065V1077.5M185.45,1610.5V1637M208.68,1902V1889.5M208.68,1065V1077.5M208.68,1610.5V1637M231.9,1902V1889.5M231.9,1065V1077.5M231.9,1610.5V1637M255.12,1902V1872.5M255.12,1065V1094.5M255.12,1593.5V1652.5M278.35,1902V1889.5M278.35,1065V1077.5M278.35,1610.5V1637M301.58,1902V1889.5M301.58,1065V1077.5M301.58,1610.5V1637M324.8,1902V1889.5M324.8,1065V1077.5M324.8,1610.5V1637M348.02,1902V1889.5M348.02,1065V1077.5M348.02,1610.5V1637M371.25,1902V1872.5M371.25,1065V1094.5M371.25,1593.5V1652.5M394.47,1902V1889.5M394.47,1065V1077.5M394.47,1610.5V1637M417.7,1902V1889.5M417.7,1065V1077.5M417.7,1610.5V1637M440.93,1902V1889.5M440.93,1065V1077.5M440.93,1610.5V1637M464.15,1902V1889.5M464.15,1065V1077.5M464.15,1610.5V1637M487.38,1902V1872.5M487.38,1065V1094.5M487.38,1593.5V1652.5M510.6,1902V1889.5M510.6,1065V1077.5M510.6,1610.5V1637M533.83,1902V1889.5M533.83,1065V1077.5M533.83,1610.5V1637M557.05,1902V1889.5M557.05,1065V1077.5M557.05,1610.5V1637M580.27,1902V1889.5M580.27,1065V1077.5M580.27,1610.5V1637M603.5,1902V1872.5M603.5,1065V1094.5M603.5,1593.5V1652.5M626.72,1902V1889.5M626.72,1065V1077.5M626.72,1610.5V1637M649.95,1902V1889.5M649.95,1065V1077.5M649.95,1610.5V1637M673.18,1902V1889.5M673.18,1065V1077.5M673.18,1610.5V1637M696.4,1902V1889.5M696.4,1065V1077.5M696.4,1610.5V1637M719.62,1902V1872.5M719.62,1065V1094.5M719.62,1593.5V1652.5M742.85,1902V1889.5M742.85,1065V1077.5M742.85,1610.5V1637M766.08,1902V1889.5M766.08,1065V1077.5M766.08,1610.5V1637M789.3,1902V1889.5M789.3,1065V1077.5M789.3,1610.5V1637M812.53,1902V1889.5M812.53,1065V1077.5M812.53,1610.5V1637M835.75,1902V1872.5M835.75,1065V1094.5M835.75,1593.5V1652.5M858.98,1902V1889.5M858.98,1065V1077.5M858.98,1610.5V1637M882.2,1902V1889.5M882.2,1065V1077.5M882.2,1610.5V1637M905.42,1902V1889.5M905.42,1065V1077.5M905.42,1610.5V1637M928.65,1902V1889.5M928.65,1065V1077.5M928.65,1610.5V1637M951.88,1902V1872.5M951.88,1065V1094.5M951.88,1593.5V1652.5M975.1,1902V1889.5M975.1,1065V1077.5M975.1,1610.5V1637M998.33,1902V1889.5M998.33,1065V1077.5M998.33,1610.5V1637M1021.55,1902V1889.5M1021.55,1065V1077.5M1021.55,1610.5V1637M1044.78,1902V1889.5M1044.78,1065V1077.5M1044.78,1610.5V1637M1068,1902V1872.5M1068,1065V1094.5M1068,1593.5V1652.5M139,1611.2H152M1068,1611.2H1055M139,1599.4H152M1068,1599.4H1055M139,1587.6H152M1068,1587.6H1055M139,1575.8H152M1068,1575.8H1055M139,1564H168.5M1068,1564H1038.5M139,1552.2H152M1068,1552.2H1055M139,1540.4H152M1068,1540.4H1055M139,1528.6H152M1068,1528.6H1055M139,1516.8H152M1068,1516.8H1055M139,1505H168.5M1068,1505H1038.5M139,1493.2H152M1068,1493.2H1055M139,1481.4H152M1068,1481.4H1055M139,1469.6H152M1068,1469.6H1055M139,1457.8H152M1068,1457.8H1055M139,1446H168.5M1068,1446H1038.5M139,1434.2H152M1068,1434.2H1055M139,1422.4H152M1068,1422.4H1055M139,1410.6H152M1068,1410.6H1055M139,1398.8H152M1068,1398.8H1055M139,1387H168.5M1068,1387H1038.5M139,1375.2H152M1068,1375.2H1055M139,1363.4H152M1068,1363.4H1055M139,1351.6H152M1068,1351.6H1055M139,1339.8H152M1068,1339.8H1055M139,1328H168.5M1068,1328H1038.5M139,1316.2H152M1068,1316.2H1055M139,1304.4H152M1068,1304.4H1055M139,1292.6H152M1068,1292.6H1055M139,1280.8H152M1068,1280.8H1055M139,1269H168.5M1068,1269H1038.5M139,1257.2H152M1068,1257.2H1055M139,1245.4H152M1068,1245.4H1055M139,1233.6H152M1068,1233.6H1055M139,1221.8H152M1068,1221.8H1055M139,1210H168.5M1068,1210H1038.5M139,1198.2H152M1068,1198.2H1055M139,1186.4H152M1068,1186.4H1055M139,1174.6H152M1068,1174.6H1055M139,1162.8H152M1068,1162.8H1055M139,1151H168.5M1068,1151H1038.5M139,1139.2H152M1068,1139.2H1055M139,1127.4H152M1068,1127.4H1055M139,1115.6H152M1068,1115.6H1055M139,1103.8H152M1068,1103.8H1055M139,1092H168.5M1068,1092H1038.5M139,1080.2H152M1068,1080.2H1055M139,1068.4H152M1068,1068.4H1055M139,1888.05H152M1068,1888.05H1055M139,1874.1H152M1068,1874.1H1055M139,1860.15H152M1068,1860.15H1055M139,1846.2H152M1068,1846.2H1055M139,1832.25H168.5M1068,1832.25H1038.5M139,1818.3H152M1068,1818.3H1055M139,1804.35H152M1068,1804.35H1055M139,1790.4H152M1068,1790.4H1055M139,1776.45H152M1068,1776.45H1055M139,1762.5H168.5M1068,1762.5H1038.5M139,1748.55H152M1068,1748.55H1055M139,1734.6H152M1068,1734.6H1055M139,1720.65H152M1068,1720.65H1055M139,1706.7H152M1068,1706.7H1055M139,1692.75H168.5M1068,1692.75H1038.5M139,1678.8H152M1068,1678.8H1055M139,1664.85H152M1068,1664.85H1055M139,1650.9H152M1068,1650.9H1055M139,1636.95H152M1068,1636.95H1055" stroke="#000" stroke-width="2.2" fill="none"/>
<rect x="139" y="1065" width="929" height="837" fill="none" stroke="#000" stroke-width="2.4"/>
<line x1="139" x2="1068" y1="1623" y2="1623" stroke="#000" stroke-width="2.4"/>
<g style='font-family:"Liberation Serif",serif;font-size:31px'><text x="121.5" y="1633.2" text-anchor="end">0</text><text x="121.5" y="1574.2" text-anchor="end">0.5</text><text x="121.5" y="1515.2" text-anchor="end">1</text><text x="121.5" y="1456.2" text-anchor="end">1.5</text><text x="121.5" y="1397.2" text-anchor="end">2</text><text x="121.5" y="1338.2" text-anchor="end">2.5</text><text x="121.5" y="1279.2" text-anchor="end">3</text><text x="121.5" y="1220.2" text-anchor="end">3.5</text><text x="121.5" y="1161.2" text-anchor="end">4</text><text x="121.5" y="1102.2" text-anchor="end">4.5</text><text x="121.5" y="1912.2" text-anchor="end">0.9</text><text x="121.5" y="1842.45" text-anchor="end">0.95</text><text x="121.5" y="1772.7" text-anchor="end">1</text><text x="121.5" y="1702.95" text-anchor="end">1.05</text><text x="139" y="1937.7" text-anchor="middle" style="font-size:30px">0.1</text><text x="255.13" y="1937.7" text-anchor="middle" style="font-size:30px">0.15</text><text x="371.25" y="1937.7" text-anchor="middle" style="font-size:30px">0.2</text><text x="487.38" y="1937.7" text-anchor="middle" style="font-size:30px">0.25</text><text x="603.5" y="1937.7" text-anchor="middle" style="font-size:30px">0.3</text><text x="719.62" y="1937.7" text-anchor="middle" style="font-size:30px">0.35</text><text x="835.75" y="1937.7" text-anchor="middle" style="font-size:30px">0.4</text><text x="951.88" y="1937.7" text-anchor="middle" style="font-size:30px">0.45</text><text x="1068" y="1937.7" text-anchor="middle" style="font-size:30px">0.5</text></g>
<clipPath id="cmBR"><rect x="1288" y="1065" width="929" height="558"/></clipPath>
<clipPath id="crBR"><rect x="1288" y="1623" width="929" height="279"/></clipPath>
<g clip-path="url(#crBR)" fill="#C2C26A" shape-rendering="crispEdges"><rect x="1288" y="1734.5" width="111.48" height="42.7"/><rect x="1399.48" y="1747.2" width="74.32" height="27.7"/><rect x="1473.8" y="1741.5" width="37.16" height="40.3"/><rect x="1510.96" y="1751.8" width="55.74" height="26.2"/><rect x="1566.7" y="1736.4" width="55.74" height="41.5"/><rect x="1622.44" y="1749.1" width="55.74" height="38.9"/><rect x="1678.18" y="1739.1" width="74.32" height="36.9"/><rect x="1752.5" y="1745.1" width="74.32" height="39.7"/><rect x="1826.82" y="1751.9" width="74.32" height="36.5"/><rect x="1901.14" y="1745" width="74.32" height="52.5"/><rect x="1975.46" y="1713.4" width="241.54" height="82.9"/></g>
<line x1="1288" x2="2217" y1="1762.5" y2="1762.5" stroke="#000" stroke-width="1.5"/>
<path clip-path="url(#cmBR)" d="M1288,1372.44L1399.48,1372.44L1399.48,1153.1L1473.8,1153.1L1473.8,1154.54L1510.96,1154.54L1510.96,1199.16L1566.7,1199.16L1566.7,1241.51L1622.44,1241.51L1622.44,1281.9L1678.18,1281.9L1678.18,1320.9L1752.5,1320.9L1752.5,1338.66L1826.82,1338.66L1826.82,1355.85L1901.14,1355.85L1901.14,1403.72L1975.46,1403.72L1975.46,1558.81L2217,1558.81" fill="none" stroke="#EE3311" stroke-width="6" stroke-linejoin="miter"/>
<path clip-path="url(#crBR)" d="M1288,1740.81L1399.48,1740.81L1399.48,1799.61L1473.8,1799.61L1473.8,1794.52L1510.96,1794.52L1510.96,1790.4L1566.7,1790.4L1566.7,1789.91L1622.44,1789.91L1622.44,1789.42L1678.18,1789.42L1678.18,1762.5L1752.5,1762.5L1752.5,1711.02L1826.82,1711.02L1826.82,1719.39L1901.14,1719.39L1901.14,1702.1L1975.46,1702.1L1975.46,1718.7L2217,1718.7" fill="none" stroke="#EE3311" stroke-width="6" stroke-linejoin="miter"/>
<path clip-path="url(#cmBR)" d="M1288,1361.43L1399.48,1361.43L1399.48,1141.59L1473.8,1141.59L1473.8,1156.99L1510.96,1156.99L1510.96,1187.9L1566.7,1187.9L1566.7,1237.3L1622.44,1237.3L1622.44,1283.92L1678.18,1283.92L1678.18,1323.59L1752.5,1323.59L1752.5,1342.74L1826.82,1342.74L1826.82,1364.93L1901.14,1364.93L1901.14,1413.13L1975.46,1413.13L1975.46,1562.99L2217,1562.99" fill="none" stroke="#3366FF" stroke-width="6" stroke-linejoin="miter"/>
<path clip-path="url(#crBR)" d="M1288,1709.21L1399.48,1709.21L1399.48,1783.42L1473.8,1783.42L1473.8,1798L1510.96,1798L1510.96,1772.61L1566.7,1772.61L1566.7,1782.52L1622.44,1782.52L1622.44,1793.4L1678.18,1793.4L1678.18,1768.71L1752.5,1768.71L1752.5,1721.77L1826.82,1721.77L1826.82,1744.57L1901.14,1744.57L1901.14,1734.6L1975.46,1734.6L1975.46,1767.03L2217,1767.03" fill="none" stroke="#3366FF" stroke-width="6" stroke-linejoin="miter"/>
<path clip-path="url(#cmBR)" d="M1288,1355.97L1399.48,1355.97L1399.48,1144.22L1473.8,1144.22L1473.8,1148.06L1510.96,1148.06L1510.96,1192.27L1566.7,1192.27L1566.7,1238.73L1622.44,1238.73L1622.44,1286.26L1678.18,1286.26L1678.18,1322.77L1752.5,1322.77L1752.5,1348.67L1826.82,1348.67L1826.82,1366.72L1901.14,1366.72L1901.14,1412.2L1975.46,1412.2L1975.46,1562.68L2217,1562.68" fill="none" stroke="#109618" stroke-width="6" stroke-linejoin="miter"/>
<path clip-path="url(#crBR)" d="M1288,1693.52L1399.48,1693.52L1399.48,1787.12L1473.8,1787.12L1473.8,1785.31L1510.96,1785.31L1510.96,1779.52L1566.7,1779.52L1566.7,1785.03L1622.44,1785.03L1622.44,1798L1678.18,1798L1678.18,1766.82L1752.5,1766.82L1752.5,1737.39L1826.82,1737.39L1826.82,1749.53L1901.14,1749.53L1901.14,1731.39L1975.46,1731.39L1975.46,1763.41L2217,1763.41" fill="none" stroke="#109618" stroke-width="6" stroke-linejoin="miter"/>
<path clip-path="url(#cmBR)" d="M1288,1357.57L1399.48,1357.57L1399.48,1141.59L1473.8,1141.59L1473.8,1150.46L1510.96,1150.46L1510.96,1190.82L1566.7,1190.82L1566.7,1240.2L1622.44,1240.2L1622.44,1288.6L1678.18,1288.6L1678.18,1325.13L1752.5,1325.13L1752.5,1344.11L1826.82,1344.11L1826.82,1363.4L1901.14,1363.4L1901.14,1414.28L1975.46,1414.28L1975.46,1562.3L2217,1562.3" fill="none" stroke="#FF9900" stroke-width="6" stroke-linejoin="miter"/>
<path clip-path="url(#crBR)" d="M1288,1698.12L1399.48,1698.12L1399.48,1783.42L1473.8,1783.42L1473.8,1788.73L1510.96,1788.73L1510.96,1777.22L1566.7,1777.22L1566.7,1787.61L1622.44,1787.61L1622.44,1802.61L1678.18,1802.61L1678.18,1772.27L1752.5,1772.27L1752.5,1725.39L1826.82,1725.39L1826.82,1740.32L1901.14,1740.32L1901.14,1738.58L1975.46,1738.58L1975.46,1759.08L2217,1759.08" fill="none" stroke="#FF9900" stroke-width="6" stroke-linejoin="miter"/>
<g clip-path="url(#cmBR)"><circle cx="1343.74" cy="1372.44" r="7" fill="#fff" stroke="#EE3311" stroke-width="1.6"/><circle cx="1436.64" cy="1153.1" r="7" fill="#fff" stroke="#EE3311" stroke-width="1.6"/><circle cx="1492.38" cy="1154.54" r="7" fill="#fff" stroke="#EE3311" stroke-width="1.6"/><circle cx="1538.83" cy="1199.16" r="7" fill="#fff" stroke="#EE3311" stroke-width="1.6"/><circle cx="1594.57" cy="1241.51" r="7" fill="#fff" stroke="#EE3311" stroke-width="1.6"/><circle cx="1650.31" cy="1281.9" r="7" fill="#fff" stroke="#EE3311" stroke-width="1.6"/><circle cx="1715.34" cy="1320.9" r="7" fill="#fff" stroke="#EE3311" stroke-width="1.6"/><circle cx="1789.66" cy="1338.66" r="7" fill="#fff" stroke="#EE3311" stroke-width="1.6"/><circle cx="1863.98" cy="1355.85" r="7" fill="#fff" stroke="#EE3311" stroke-width="1.6"/><circle cx="1938.3" cy="1403.72" r="7" fill="#fff" stroke="#EE3311" stroke-width="1.6"/><circle cx="2096.23" cy="1558.81" r="7" fill="#fff" stroke="#EE3311" stroke-width="1.6"/></g>
<g clip-path="url(#crBR)"><circle cx="1343.74" cy="1740.81" r="7" fill="#fff" stroke="#EE3311" stroke-width="1.6"/><circle cx="1436.64" cy="1799.61" r="7" fill="#fff" stroke="#EE3311" stroke-width="1.6"/><circle cx="1492.38" cy="1794.52" r="7" fill="#fff" stroke="#EE3311" stroke-width="1.6"/><circle cx="1538.83" cy="1790.4" r="7" fill="#fff" stroke="#EE3311" stroke-width="1.6"/><circle cx="1594.57" cy="1789.91" r="7" fill="#fff" stroke="#EE3311" stroke-width="1.6"/><circle cx="1650.31" cy="1789.42" r="7" fill="#fff" stroke="#EE3311" stroke-width="1.6"/><circle cx="1715.34" cy="1762.5" r="7" fill="#fff" stroke="#EE3311" stroke-width="1.6"/><circle cx="1789.66" cy="1711.02" r="7" fill="#fff" stroke="#EE3311" stroke-width="1.6"/><circle cx="1863.98" cy="1719.39" r="7" fill="#fff" stroke="#EE3311" stroke-width="1.6"/><circle cx="1938.3" cy="1702.1" r="7" fill="#fff" stroke="#EE3311" stroke-width="1.6"/><circle cx="2096.23" cy="1718.7" r="7" fill="#fff" stroke="#EE3311" stroke-width="1.6"/></g>
<g clip-path="url(#cmBR)"><path d="M1343.74,1351.43L1349.54,1361.43L1343.74,1371.43L1337.94,1361.43Z" fill="#fff" stroke="#3366FF" stroke-width="1.6"/><path d="M1436.64,1131.59L1442.44,1141.59L1436.64,1151.59L1430.84,1141.59Z" fill="#fff" stroke="#3366FF" stroke-width="1.6"/><path d="M1492.38,1146.99L1498.18,1156.99L1492.38,1166.99L1486.58,1156.99Z" fill="#fff" stroke="#3366FF" stroke-width="1.6"/><path d="M1538.83,1177.9L1544.63,1187.9L1538.83,1197.9L1533.03,1187.9Z" fill="#fff" stroke="#3366FF" stroke-width="1.6"/><path d="M1594.57,1227.3L1600.37,1237.3L1594.57,1247.3L1588.77,1237.3Z" fill="#fff" stroke="#3366FF" stroke-width="1.6"/><path d="M1650.31,1273.92L1656.11,1283.92L1650.31,1293.92L1644.51,1283.92Z" fill="#fff" stroke="#3366FF" stroke-width="1.6"/><path d="M1715.34,1313.59L1721.14,1323.59L1715.34,1333.59L1709.54,1323.59Z" fill="#fff" stroke="#3366FF" stroke-width="1.6"/><path d="M1789.66,1332.74L1795.46,1342.74L1789.66,1352.74L1783.86,1342.74Z" fill="#fff" stroke="#3366FF" stroke-width="1.6"/><path d="M1863.98,1354.93L1869.78,1364.93L1863.98,1374.93L1858.18,1364.93Z" fill="#fff" stroke="#3366FF" stroke-width="1.6"/><path d="M1938.3,1403.13L1944.1,1413.13L1938.3,1423.13L1932.5,1413.13Z" fill="#fff" stroke="#3366FF" stroke-width="1.6"/><path d="M2096.23,1552.99L2102.03,1562.99L2096.23,1572.99L2090.43,1562.99Z" fill="#fff" stroke="#3366FF" stroke-width="1.6"/></g>
<g clip-path="url(#crBR)"><path d="M1343.74,1699.21L1349.54,1709.21L1343.74,1719.21L1337.94,1709.21Z" fill="#fff" stroke="#3366FF" stroke-width="1.6"/><path d="M1436.64,1773.42L1442.44,1783.42L1436.64,1793.42L1430.84,1783.42Z" fill="#fff" stroke="#3366FF" stroke-width="1.6"/><path d="M1492.38,1788L1498.18,1798L1492.38,1808L1486.58,1798Z" fill="#fff" stroke="#3366FF" stroke-width="1.6"/><path d="M1538.83,1762.61L1544.63,1772.61L1538.83,1782.61L1533.03,1772.61Z" fill="#fff" stroke="#3366FF" stroke-width="1.6"/><path d="M1594.57,1772.52L1600.37,1782.52L1594.57,1792.52L1588.77,1782.52Z" fill="#fff" stroke="#3366FF" stroke-width="1.6"/><path d="M1650.31,1783.4L1656.11,1793.4L1650.31,1803.4L1644.51,1793.4Z" fill="#fff" stroke="#3366FF" stroke-width="1.6"/><path d="M1715.34,1758.71L1721.14,1768.71L1715.34,1778.71L1709.54,1768.71Z" fill="#fff" stroke="#3366FF" stroke-width="1.6"/><path d="M1789.66,1711.77L1795.46,1721.77L1789.66,1731.77L1783.86,1721.77Z" fill="#fff" stroke="#3366FF" stroke-width="1.6"/><path d="M1863.98,1734.57L1869.78,1744.57L1863.98,1754.57L1858.18,1744.57Z" fill="#fff" stroke="#3366FF" stroke-width="1.6"/><path d="M1938.3,1724.6L1944.1,1734.6L1938.3,1744.6L1932.5,1734.6Z" fill="#fff" stroke="#3366FF" stroke-width="1.6"/><path d="M2096.23,1757.03L2102.03,1767.03L2096.23,1777.03L2090.43,1767.03Z" fill="#fff" stroke="#3366FF" stroke-width="1.6"/></g>
<g clip-path="url(#cmBR)"><path d="M1343.74,1346.97L1353.24,1361.97L1334.24,1361.97Z" fill="#fff" stroke="#109618" stroke-width="1.6"/><path d="M1436.64,1135.22L1446.14,1150.22L1427.14,1150.22Z" fill="#fff" stroke="#109618" stroke-width="1.6"/><path d="M1492.38,1139.06L1501.88,1154.06L1482.88,1154.06Z" fill="#fff" stroke="#109618" stroke-width="1.6"/><path d="M1538.83,1183.27L1548.33,1198.27L1529.33,1198.27Z" fill="#fff" stroke="#109618" stroke-width="1.6"/><path d="M1594.57,1229.73L1604.07,1244.73L1585.07,1244.73Z" fill="#fff" stroke="#109618" stroke-width="1.6"/><path d="M1650.31,1277.26L1659.81,1292.26L1640.81,1292.26Z" fill="#fff" stroke="#109618" stroke-width="1.6"/><path d="M1715.34,1313.77L1724.84,1328.77L1705.84,1328.77Z" fill="#fff" stroke="#109618" stroke-width="1.6"/><path d="M1789.66,1339.67L1799.16,1354.67L1780.16,1354.67Z" fill="#fff" stroke="#109618" stroke-width="1.6"/><path d="M1863.98,1357.72L1873.48,1372.72L1854.48,1372.72Z" fill="#fff" stroke="#109618" stroke-width="1.6"/><path d="M1938.3,1403.2L1947.8,1418.2L1928.8,1418.2Z" fill="#fff" stroke="#109618" stroke-width="1.6"/><path d="M2096.23,1553.68L2105.73,1568.68L2086.73,1568.68Z" fill="#fff" stroke="#109618" stroke-width="1.6"/></g>
<g clip-path="url(#crBR)"><path d="M1343.74,1684.52L1353.24,1699.52L1334.24,1699.52Z" fill="#fff" stroke="#109618" stroke-width="1.6"/><path d="M1436.64,1778.12L1446.14,1793.12L1427.14,1793.12Z" fill="#fff" stroke="#109618" stroke-width="1.6"/><path d="M1492.38,1776.31L1501.88,1791.31L1482.88,1791.31Z" fill="#fff" stroke="#109618" stroke-width="1.6"/><path d="M1538.83,1770.52L1548.33,1785.52L1529.33,1785.52Z" fill="#fff" stroke="#109618" stroke-width="1.6"/><path d="M1594.57,1776.03L1604.07,1791.03L1585.07,1791.03Z" fill="#fff" stroke="#109618" stroke-width="1.6"/><path d="M1650.31,1789L1659.81,1804L1640.81,1804Z" fill="#fff" stroke="#109618" stroke-width="1.6"/><path d="M1715.34,1757.82L1724.84,1772.82L1705.84,1772.82Z" fill="#fff" stroke="#109618" stroke-width="1.6"/><path d="M1789.66,1728.39L1799.16,1743.39L1780.16,1743.39Z" fill="#fff" stroke="#109618" stroke-width="1.6"/><path d="M1863.98,1740.53L1873.48,1755.53L1854.48,1755.53Z" fill="#fff" stroke="#109618" stroke-width="1.6"/><path d="M1938.3,1722.39L1947.8,1737.39L1928.8,1737.39Z" fill="#fff" stroke="#109618" stroke-width="1.6"/><path d="M2096.23,1754.41L2105.73,1769.41L2086.73,1769.41Z" fill="#fff" stroke="#109618" stroke-width="1.6"/></g>
<g clip-path="url(#cmBR)"><path d="M1343.74,1349.77L1352.11,1355.85L1348.91,1365.69L1338.57,1365.69L1335.37,1355.85Z" fill="#fff" stroke="#FF9900" stroke-width="1.6"/><path d="M1436.64,1133.79L1445.01,1139.87L1441.81,1149.71L1431.47,1149.71L1428.27,1139.87Z" fill="#fff" stroke="#FF9900" stroke-width="1.6"/><path d="M1492.38,1142.66L1500.75,1148.74L1497.55,1158.58L1487.21,1158.58L1484.01,1148.74Z" fill="#fff" stroke="#FF9900" stroke-width="1.6"/><path d="M1538.83,1183.02L1547.2,1189.1L1544,1198.93L1533.66,1198.93L1530.46,1189.1Z" fill="#fff" stroke="#FF9900" stroke-width="1.6"/><path d="M1594.57,1232.4L1602.94,1238.48L1599.74,1248.31L1589.4,1248.31L1586.2,1238.48Z" fill="#fff" stroke="#FF9900" stroke-width="1.6"/><path d="M1650.31,1280.8L1658.68,1286.88L1655.48,1296.72L1645.14,1296.72L1641.94,1286.88Z" fill="#fff" stroke="#FF9900" stroke-width="1.6"/><path d="M1715.34,1317.33L1723.71,1323.41L1720.51,1333.25L1710.17,1333.25L1706.97,1323.41Z" fill="#fff" stroke="#FF9900" stroke-width="1.6"/><path d="M1789.66,1336.31L1798.03,1342.39L1794.83,1352.23L1784.49,1352.23L1781.29,1342.39Z" fill="#fff" stroke="#FF9900" stroke-width="1.6"/><path d="M1863.98,1355.6L1872.35,1361.68L1869.15,1371.52L1858.81,1371.52L1855.61,1361.68Z" fill="#fff" stroke="#FF9900" stroke-width="1.6"/><path d="M1938.3,1406.48L1946.67,1412.56L1943.47,1422.4L1933.13,1422.4L1929.93,1412.56Z" fill="#fff" stroke="#FF9900" stroke-width="1.6"/><path d="M2096.23,1554.5L2104.6,1560.58L2101.4,1570.42L2091.06,1570.42L2087.86,1560.58Z" fill="#fff" stroke="#FF9900" stroke-width="1.6"/></g>
<g clip-path="url(#crBR)"><path d="M1343.74,1690.32L1352.11,1696.4L1348.91,1706.24L1338.57,1706.24L1335.37,1696.4Z" fill="#fff" stroke="#FF9900" stroke-width="1.6"/><path d="M1436.64,1775.62L1445.01,1781.71L1441.81,1791.54L1431.47,1791.54L1428.27,1781.71Z" fill="#fff" stroke="#FF9900" stroke-width="1.6"/><path d="M1492.38,1780.93L1500.75,1787.01L1497.55,1796.85L1487.21,1796.85L1484.01,1787.01Z" fill="#fff" stroke="#FF9900" stroke-width="1.6"/><path d="M1538.83,1769.42L1547.2,1775.5L1544,1785.34L1533.66,1785.34L1530.46,1775.5Z" fill="#fff" stroke="#FF9900" stroke-width="1.6"/><path d="M1594.57,1779.81L1602.94,1785.89L1599.74,1795.73L1589.4,1795.73L1586.2,1785.89Z" fill="#fff" stroke="#FF9900" stroke-width="1.6"/><path d="M1650.31,1794.81L1658.68,1800.89L1655.48,1810.73L1645.14,1810.73L1641.94,1800.89Z" fill="#fff" stroke="#FF9900" stroke-width="1.6"/><path d="M1715.34,1764.47L1723.71,1770.55L1720.51,1780.38L1710.17,1780.38L1706.97,1770.55Z" fill="#fff" stroke="#FF9900" stroke-width="1.6"/><path d="M1789.66,1717.59L1798.03,1723.67L1794.83,1733.51L1784.49,1733.51L1781.29,1723.67Z" fill="#fff" stroke="#FF9900" stroke-width="1.6"/><path d="M1863.98,1732.52L1872.35,1738.6L1869.15,1748.44L1858.81,1748.44L1855.61,1738.6Z" fill="#fff" stroke="#FF9900" stroke-width="1.6"/><path d="M1938.3,1730.78L1946.67,1736.86L1943.47,1746.7L1933.13,1746.7L1929.93,1736.86Z" fill="#fff" stroke="#FF9900" stroke-width="1.6"/><path d="M2096.23,1751.28L2104.6,1757.36L2101.4,1767.2L2091.06,1767.2L2087.86,1757.36Z" fill="#fff" stroke="#FF9900" stroke-width="1.6"/></g>
<g clip-path="url(#cmBR)"><path d="M1288,1380H1399.48M1343.74,1376V1384" stroke="#000" stroke-width="2.8" fill="none"/><circle cx="1343.74" cy="1380" r="6.3" fill="#000"/><path d="M1399.48,1126.7H1473.8M1436.64,1116.7V1136.7" stroke="#000" stroke-width="2.8" fill="none"/><circle cx="1436.64" cy="1126.7" r="6.3" fill="#000"/><path d="M1473.8,1132H1510.96M1492.38,1119V1145" stroke="#000" stroke-width="2.8" fill="none"/><circle cx="1492.38" cy="1132" r="6.3" fill="#000"/><path d="M1510.96,1181.5H1566.7M1538.83,1174.5V1188.5" stroke="#000" stroke-width="2.8" fill="none"/><circle cx="1538.83" cy="1181.5" r="6.3" fill="#000"/><path d="M1566.7,1225.9H1622.44M1594.57,1210.9V1240.9" stroke="#000" stroke-width="2.8" fill="none"/><circle cx="1594.57" cy="1225.9" r="6.3" fill="#000"/><path d="M1622.44,1268.2H1678.18M1650.31,1258.2V1278.2" stroke="#000" stroke-width="2.8" fill="none"/><circle cx="1650.31" cy="1268.2" r="6.3" fill="#000"/><path d="M1678.18,1320.9H1752.5M1715.34,1315.9V1325.9" stroke="#000" stroke-width="2.8" fill="none"/><circle cx="1715.34" cy="1320.9" r="6.3" fill="#000"/><path d="M1752.5,1358.2H1826.82M1789.66,1350.2V1366.2" stroke="#000" stroke-width="2.8" fill="none"/><circle cx="1789.66" cy="1358.2" r="6.3" fill="#000"/><path d="M1826.82,1371.4H1901.14M1863.98,1363.4V1379.4" stroke="#000" stroke-width="2.8" fill="none"/><circle cx="1863.98" cy="1371.4" r="6.3" fill="#000"/><path d="M1901.14,1421.2H1975.46M1938.3,1411.2V1431.2" stroke="#000" stroke-width="2.8" fill="none"/><circle cx="1938.3" cy="1421.2" r="6.3" fill="#000"/><path d="M1975.46,1562.6H2217M2096.23,1559.6V1565.6" stroke="#000" stroke-width="2.8" fill="none"/><circle cx="2096.23" cy="1562.6" r="6.3" fill="#000"/></g>
<path d="M1288,1902V1872.5M1288,1065V1094.5M1288,1593.5V1652.5M1325.16,1902V1889.5M1325.16,1065V1077.5M1325.16,1610.5V1637M1362.32,1902V1889.5M1362.32,1065V1077.5M1362.32,1610.5V1637M1399.48,1902V1889.5M1399.48,1065V1077.5M1399.48,1610.5V1637M1436.64,1902V1889.5M1436.64,1065V1077.5M1436.64,1610.5V1637M1473.8,1902V1872.5M1473.8,1065V1094.5M1473.8,1593.5V1652.5M1510.96,1902V1889.5M1510.96,1065V1077.5M1510.96,1610.5V1637M1548.12,1902V1889.5M1548.12,1065V1077.5M1548.12,1610.5V1637M1585.28,1902V1889.5M1585.28,1065V1077.5M1585.28,1610.5V1637M1622.44,1902V1889.5M1622.44,1065V1077.5M1622.44,1610.5V1637M1659.6,1902V1872.5M1659.6,1065V1094.5M1659.6,1593.5V1652.5M1696.76,1902V1889.5M1696.76,1065V1077.5M1696.76,1610.5V1637M1733.92,1902V1889.5M1733.92,1065V1077.5M1733.92,1610.5V1637M1771.08,1902V1889.5M1771.08,1065V1077.5M1771.08,1610.5V1637M1808.24,1902V1889.5M1808.24,1065V1077.5M1808.24,1610.5V1637M1845.4,1902V1872.5M1845.4,1065V1094.5M1845.4,1593.5V1652.5M1882.56,1902V1889.5M1882.56,1065V1077.5M1882.56,1610.5V1637M1919.72,1902V1889.5M1919.72,1065V1077.5M1919.72,1610.5V1637M1956.88,1902V1889.5M1956.88,1065V1077.5M1956.88,1610.5V1637M1994.04,1902V1889.5M1994.04,1065V1077.5M1994.04,1610.5V1637M2031.2,1902V1872.5M2031.2,1065V1094.5M2031.2,1593.5V1652.5M2068.36,1902V1889.5M2068.36,1065V1077.5M2068.36,1610.5V1637M2105.52,1902V1889.5M2105.52,1065V1077.5M2105.52,1610.5V1637M2142.68,1902V1889.5M2142.68,1065V1077.5M2142.68,1610.5V1637M2179.84,1902V1889.5M2179.84,1065V1077.5M2179.84,1610.5V1637M2217,1902V1872.5M2217,1065V1094.5M2217,1593.5V1652.5M1288,1610.12H1301M2217,1610.12H2204M1288,1597.24H1301M2217,1597.24H2204M1288,1584.36H1301M2217,1584.36H2204M1288,1571.48H1301M2217,1571.48H2204M1288,1558.6H1317.5M2217,1558.6H2187.5M1288,1545.72H1301M2217,1545.72H2204M1288,1532.84H1301M2217,1532.84H2204M1288,1519.96H1301M2217,1519.96H2204M1288,1507.08H1301M2217,1507.08H2204M1288,1494.2H1317.5M2217,1494.2H2187.5M1288,1481.32H1301M2217,1481.32H2204M1288,1468.44H1301M2217,1468.44H2204M1288,1455.56H1301M2217,1455.56H2204M1288,1442.68H1301M2217,1442.68H2204M1288,1429.8H1317.5M2217,1429.8H2187.5M1288,1416.92H1301M2217,1416.92H2204M1288,1404.04H1301M2217,1404.04H2204M1288,1391.16H1301M2217,1391.16H2204M1288,1378.28H1301M2217,1378.28H2204M1288,1365.4H1317.5M2217,1365.4H2187.5M1288,1352.52H1301M2217,1352.52H2204M1288,1339.64H1301M2217,1339.64H2204M1288,1326.76H1301M2217,1326.76H2204M1288,1313.88H1301M2217,1313.88H2204M1288,1301H1317.5M2217,1301H2187.5M1288,1288.12H1301M2217,1288.12H2204M1288,1275.24H1301M2217,1275.24H2204M1288,1262.36H1301M2217,1262.36H2204M1288,1249.48H1301M2217,1249.48H2204M1288,1236.6H1317.5M2217,1236.6H2187.5M1288,1223.72H1301M2217,1223.72H2204M1288,1210.84H1301M2217,1210.84H2204M1288,1197.96H1301M2217,1197.96H2204M1288,1185.08H1301M2217,1185.08H2204M1288,1172.2H1317.5M2217,1172.2H2187.5M1288,1159.32H1301M2217,1159.32H2204M1288,1146.44H1301M2217,1146.44H2204M1288,1133.56H1301M2217,1133.56H2204M1288,1120.68H1301M2217,1120.68H2204M1288,1107.8H1317.5M2217,1107.8H2187.5M1288,1094.92H1301M2217,1094.92H2204M1288,1082.04H1301M2217,1082.04H2204M1288,1069.16H1301M2217,1069.16H2204M1288,1895.02H1301M2217,1895.02H2204M1288,1888.05H1301M2217,1888.05H2204M1288,1881.08H1301M2217,1881.08H2204M1288,1874.1H1301M2217,1874.1H2204M1288,1867.12H1317.5M2217,1867.12H2187.5M1288,1860.15H1301M2217,1860.15H2204M1288,1853.17H1301M2217,1853.17H2204M1288,1846.2H1301M2217,1846.2H2204M1288,1839.22H1301M2217,1839.22H2204M1288,1832.25H1317.5M2217,1832.25H2187.5M1288,1825.28H1301M2217,1825.28H2204M1288,1818.3H1301M2217,1818.3H2204M1288,1811.33H1301M2217,1811.33H2204M1288,1804.35H1301M2217,1804.35H2204M1288,1797.38H1317.5M2217,1797.38H2187.5M1288,1790.4H1301M2217,1790.4H2204M1288,1783.42H1301M2217,1783.42H2204M1288,1776.45H1301M2217,1776.45H2204M1288,1769.47H1301M2217,1769.47H2204M1288,1762.5H1317.5M2217,1762.5H2187.5M1288,1755.53H1301M2217,1755.53H2204M1288,1748.55H1301M2217,1748.55H2204M1288,1741.58H1301M2217,1741.58H2204M1288,1734.6H1301M2217,1734.6H2204M1288,1727.62H1317.5M2217,1727.62H2187.5M1288,1720.65H1301M2217,1720.65H2204M1288,1713.67H1301M2217,1713.67H2204M1288,1706.7H1301M2217,1706.7H2204M1288,1699.72H1301M2217,1699.72H2204M1288,1692.75H1317.5M2217,1692.75H2187.5M1288,1685.77H1301M2217,1685.77H2204M1288,1678.8H1301M2217,1678.8H2204M1288,1671.82H1301M2217,1671.82H2204M1288,1664.85H1301M2217,1664.85H2204M1288,1657.88H1317.5M2217,1657.88H2187.5M1288,1650.9H1301M2217,1650.9H2204M1288,1643.92H1301M2217,1643.92H2204M1288,1636.95H1301M2217,1636.95H2204M1288,1629.98H1301M2217,1629.98H2204" stroke="#000" stroke-width="2.2" fill="none"/>
<rect x="1288" y="1065" width="929" height="837" fill="none" stroke="#000" stroke-width="2.4"/>
<line x1="1288" x2="2217" y1="1623" y2="1623" stroke="#000" stroke-width="2.4"/>
<g style='font-family:"Liberation Serif",serif;font-size:31px'><text x="1270.5" y="1633.2" text-anchor="end">0</text><text x="1270.5" y="1568.8" text-anchor="end">0.5</text><text x="1270.5" y="1504.4" text-anchor="end">1</text><text x="1270.5" y="1440" text-anchor="end">1.5</text><text x="1270.5" y="1375.6" text-anchor="end">2</text><text x="1270.5" y="1311.2" text-anchor="end">2.5</text><text x="1270.5" y="1246.8" text-anchor="end">3</text><text x="1270.5" y="1182.4" text-anchor="end">3.5</text><text x="1270.5" y="1118" text-anchor="end">4</text><text x="1270.5" y="1912.2" text-anchor="end">0.8</text><text x="1270.5" y="1877.33" text-anchor="end">0.85</text><text x="1270.5" y="1842.45" text-anchor="end">0.9</text><text x="1270.5" y="1807.58" text-anchor="end">0.95</text><text x="1270.5" y="1772.7" text-anchor="end">1</text><text x="1270.5" y="1737.83" text-anchor="end">1.05</text><text x="1270.5" y="1702.95" text-anchor="end">1.1</text><text x="1270.5" y="1668.08" text-anchor="end">1.15</text><text x="1288" y="1937.7" text-anchor="middle" style="font-size:30px">0</text><text x="1473.8" y="1937.7" text-anchor="middle" style="font-size:30px">0.1</text><text x="1659.6" y="1937.7" text-anchor="middle" style="font-size:30px">0.2</text><text x="1845.4" y="1937.7" text-anchor="middle" style="font-size:30px">0.3</text><text x="2031.2" y="1937.7" text-anchor="middle" style="font-size:30px">0.4</text><text x="2217" y="1937.7" text-anchor="middle" style="font-size:30px">0.5</text></g>
<path d="M610,114.8H686M648,102.3V127.3" stroke="#000" stroke-width="3.8"/>
<circle cx="648" cy="114.8" r="6.5"/>
<path d="M610,156.6H686M648,144.1V169.1" stroke="#EE3311" stroke-width="6"/>
<circle cx="648" cy="156.6" r="7.5" fill="#fff" stroke="#EE3311" stroke-width="1.6"/>
<path d="M610,199H686M648,186.5V211.5" stroke="#3366FF" stroke-width="6"/>
<path d="M648,188.7L653.8,199L648,209.3L642.2,199Z" fill="#fff" stroke="#3366FF" stroke-width="1.6"/>
<path d="M610,240.1H686M648,227.6V252.6" stroke="#109618" stroke-width="6"/>
<path d="M648,231.6L657.5,245.6L638.5,245.6Z" fill="#fff" stroke="#109618" stroke-width="1.6"/>
<path d="M610,282.5H686M648,270V295" stroke="#FF9900" stroke-width="6"/>
<path d="M648,274.7L656.37,280.78L653.17,290.62L642.83,290.62L639.63,280.78Z" fill="#fff" stroke="#FF9900" stroke-width="1.6"/>
<text x="704" y="127.3" style='font-family:"Liberation Serif",serif;font-size:32px' textLength="149" lengthAdjust="spacingAndGlyphs">CMS Data</text>
<text x="704" y="169.1" style='font-family:"Liberation Serif",serif;font-size:32px' textLength="128.2" lengthAdjust="spacingAndGlyphs">SoftTune</text>
<text x="704" y="211.5" style='font-family:"Liberation Serif",serif;font-size:32px' textLength="64.2" lengthAdjust="spacingAndGlyphs">CH1</text>
<text x="704" y="252.6" style='font-family:"Liberation Serif",serif;font-size:32px' textLength="65" lengthAdjust="spacingAndGlyphs">CH2</text>
<text x="704" y="295" style='font-family:"Liberation Serif",serif;font-size:32px' textLength="64.5" lengthAdjust="spacingAndGlyphs">CH3</text>
<text x="955.7" y="128.4" style='font-family:"Liberation Sans",sans-serif;font-size:30px;font-weight:bold;stroke-width:0.6px' textLength="71.8" lengthAdjust="spacingAndGlyphs">CMS</text>
<text x="874.5" y="162.7" style='font-family:"Liberation Sans",sans-serif;font-size:29.5px;font-style:italic;stroke-width:0' textLength="153" lengthAdjust="spacingAndGlyphs">Preliminary</text>
<path d="M1574,114.8H1649M1611,102.3V127.3" stroke="#000" stroke-width="3.8"/>
<circle cx="1611" cy="114.8" r="6.5"/>
<path d="M1574,156.6H1649M1611,144.1V169.1" stroke="#EE3311" stroke-width="6"/>
<circle cx="1611" cy="156.6" r="7.5" fill="#fff" stroke="#EE3311" stroke-width="1.6"/>
<path d="M1574,199H1649M1611,186.5V211.5" stroke="#3366FF" stroke-width="6"/>
<path d="M1611,188.7L1616.8,199L1611,209.3L1605.2,199Z" fill="#fff" stroke="#3366FF" stroke-width="1.6"/>
<path d="M1574,240.1H1649M1611,227.6V252.6" stroke="#109618" stroke-width="6"/>
<path d="M1611,231.6L1620.5,245.6L1601.5,245.6Z" fill="#fff" stroke="#109618" stroke-width="1.6"/>
<path d="M1574,282.5H1649M1611,270V295" stroke="#FF9900" stroke-width="6"/>
<path d="M1611,274.7L1619.37,280.78L1616.17,290.62L1605.83,290.62L1602.63,280.78Z" fill="#fff" stroke="#FF9900" stroke-width="1.6"/>
<text x="1667" y="127.3" style='font-family:"Liberation Serif",serif;font-size:32px' textLength="149" lengthAdjust="spacingAndGlyphs">CMS Data</text>
<text x="1667" y="169.1" style='font-family:"Liberation Serif",serif;font-size:32px' textLength="128.2" lengthAdjust="spacingAndGlyphs">SoftTune</text>
<text x="1667" y="211.5" style='font-family:"Liberation Serif",serif;font-size:32px' textLength="64.2" lengthAdjust="spacingAndGlyphs">CH1</text>
<text x="1667" y="252.6" style='font-family:"Liberation Serif",serif;font-size:32px' textLength="65" lengthAdjust="spacingAndGlyphs">CH2</text>
<text x="1667" y="295" style='font-family:"Liberation Serif",serif;font-size:32px' textLength="64.5" lengthAdjust="spacingAndGlyphs">CH3</text>
<text x="1343.5" y="128.4" style='font-family:"Liberation Sans",sans-serif;font-size:30px;font-weight:bold;stroke-width:0.6px' textLength="71.8" lengthAdjust="spacingAndGlyphs">CMS</text>
<text x="1343.5" y="162.7" style='font-family:"Liberation Sans",sans-serif;font-size:29.5px;font-style:italic;stroke-width:0' textLength="154.4" lengthAdjust="spacingAndGlyphs">Preliminary</text>
<path d="M603,1119.3H678M640.3,1106.8V1131.8" stroke="#000" stroke-width="2.8"/>
<circle cx="640.3" cy="1119.3" r="6.5"/>
<path d="M603,1161.5H678M640.3,1149V1174" stroke="#EE3311" stroke-width="6"/>
<circle cx="640.3" cy="1161.5" r="7.5" fill="#fff" stroke="#EE3311" stroke-width="1.6"/>
<path d="M603,1203.2H678M640.3,1190.7V1215.7" stroke="#3366FF" stroke-width="6"/>
<path d="M640.3,1192.9L646.1,1203.2L640.3,1213.5L634.5,1203.2Z" fill="#fff" stroke="#3366FF" stroke-width="1.6"/>
<path d="M603,1245H678M640.3,1232.5V1257.5" stroke="#109618" stroke-width="6"/>
<path d="M640.3,1236.5L649.8,1250.5L630.8,1250.5Z" fill="#fff" stroke="#109618" stroke-width="1.6"/>
<path d="M603,1286.7H678M640.3,1274.2V1299.2" stroke="#FF9900" stroke-width="6"/>
<path d="M640.3,1278.9L648.67,1284.98L645.47,1294.82L635.13,1294.82L631.93,1284.98Z" fill="#fff" stroke="#FF9900" stroke-width="1.6"/>
<text x="696" y="1131.8" style='font-family:"Liberation Serif",serif;font-size:32px' textLength="149" lengthAdjust="spacingAndGlyphs">CMS Data</text>
<text x="696" y="1174" style='font-family:"Liberation Serif",serif;font-size:32px' textLength="128.2" lengthAdjust="spacingAndGlyphs">SoftTune</text>
<text x="696" y="1215.7" style='font-family:"Liberation Serif",serif;font-size:32px' textLength="64.2" lengthAdjust="spacingAndGlyphs">CH1</text>
<text x="696" y="1257.5" style='font-family:"Liberation Serif",serif;font-size:32px' textLength="65" lengthAdjust="spacingAndGlyphs">CH2</text>
<text x="696" y="1299.2" style='font-family:"Liberation Serif",serif;font-size:32px' textLength="64.5" lengthAdjust="spacingAndGlyphs">CH3</text>
<text x="948" y="1131.5" style='font-family:"Liberation Sans",sans-serif;font-size:30px;font-weight:bold;stroke-width:0.6px' textLength="71.8" lengthAdjust="spacingAndGlyphs">CMS</text>
<text x="866.8" y="1167" style='font-family:"Liberation Sans",sans-serif;font-size:29.5px;font-style:italic;stroke-width:0' textLength="153" lengthAdjust="spacingAndGlyphs">Preliminary</text>
<path d="M1752,1119.3H1827M1789,1106.8V1131.8" stroke="#000" stroke-width="2.8"/>
<circle cx="1789" cy="1119.3" r="6.5"/>
<path d="M1752,1161.5H1827M1789,1149V1174" stroke="#EE3311" stroke-width="6"/>
<circle cx="1789" cy="1161.5" r="7.5" fill="#fff" stroke="#EE3311" stroke-width="1.6"/>
<path d="M1752,1203.2H1827M1789,1190.7V1215.7" stroke="#3366FF" stroke-width="6"/>
<path d="M1789,1192.9L1794.8,1203.2L1789,1213.5L1783.2,1203.2Z" fill="#fff" stroke="#3366FF" stroke-width="1.6"/>
<path d="M1752,1245H1827M1789,1232.5V1257.5" stroke="#109618" stroke-width="6"/>
<path d="M1789,1236.5L1798.5,1250.5L1779.5,1250.5Z" fill="#fff" stroke="#109618" stroke-width="1.6"/>
<path d="M1752,1286.7H1827M1789,1274.2V1299.2" stroke="#FF9900" stroke-width="6"/>
<path d="M1789,1278.9L1797.37,1284.98L1794.17,1294.82L1783.83,1294.82L1780.63,1284.98Z" fill="#fff" stroke="#FF9900" stroke-width="1.6"/>
<text x="1845" y="1131.8" style='font-family:"Liberation Serif",serif;font-size:32px' textLength="149" lengthAdjust="spacingAndGlyphs">CMS Data</text>
<text x="1845" y="1174" style='font-family:"Liberation Serif",serif;font-size:32px' textLength="128.2" lengthAdjust="spacingAndGlyphs">SoftTune</text>
<text x="1845" y="1215.7" style='font-family:"Liberation Serif",serif;font-size:32px' textLength="64.2" lengthAdjust="spacingAndGlyphs">CH1</text>
<text x="1845" y="1257.5" style='font-family:"Liberation Serif",serif;font-size:32px' textLength="65" lengthAdjust="spacingAndGlyphs">CH2</text>
<text x="1845" y="1299.2" style='font-family:"Liberation Serif",serif;font-size:32px' textLength="64.5" lengthAdjust="spacingAndGlyphs">CH3</text>
<text x="2096.7" y="1131.5" style='font-family:"Liberation Sans",sans-serif;font-size:30px;font-weight:bold;stroke-width:0.6px' textLength="71.8" lengthAdjust="spacingAndGlyphs">CMS</text>
<text x="2015.5" y="1167" style='font-family:"Liberation Sans",sans-serif;font-size:29.5px;font-style:italic;stroke-width:0' textLength="153" lengthAdjust="spacingAndGlyphs">Preliminary</text>
<text x="246.5" y="33" style='font-family:"Liberation Serif",serif;font-size:32px' textLength="503.7" lengthAdjust="spacingAndGlyphs">from charged particles, lepton+jets</text>
<text x="760" y="33" style='font-family:"Liberation Serif",serif;font-size:32px' textLength="20.9" lengthAdjust="spacingAndGlyphs">tt̄</text>
<text x="790.7" y="33" style='font-family:"Liberation Serif",serif;font-size:32px' textLength="98.1" lengthAdjust="spacingAndGlyphs">events,</text>
<text x="953.8" y="33" style='font-family:"Liberation Serif",serif;font-size:32px' textLength="23.4" lengthAdjust="spacingAndGlyphs">=</text>
<text x="990.6" y="33" style='font-family:"Liberation Serif",serif;font-size:32px' textLength="88.4" lengthAdjust="spacingAndGlyphs">13 TeV</text>
<text x="902.5" y="39" style='font-family:"Liberation Serif",serif;font-size:39px'>√</text>
<line x1="921.5" x2="944.5" y1="6" y2="6" stroke="#000" stroke-width="2"/>
<text x="924.5" y="33" style='font-family:"Liberation Serif",serif;font-size:32px;font-style:italic'>s</text>
<text x="147" y="33" style='font-family:"Liberation Serif",serif;font-size:32px;font-style:italic'>λ</text><text x="164" y="18" style='font-family:"Liberation Serif",serif;font-size:22px'>0</text><text x="164" y="40" style='font-family:"Liberation Serif",serif;font-size:22px'>0</text><text x="182.7" y="33" style='font-family:"Liberation Serif",serif;font-size:32px' textLength="50.3" lengthAdjust="spacingAndGlyphs">(N)</text>
<text x="1320.5" y="33.6" style='font-family:"Liberation Serif",serif;font-size:32px' textLength="503.7" lengthAdjust="spacingAndGlyphs">from charged particles, lepton+jets</text>
<text x="1834" y="33.6" style='font-family:"Liberation Serif",serif;font-size:32px' textLength="20.9" lengthAdjust="spacingAndGlyphs">tt̄</text>
<text x="1864.7" y="33.6" style='font-family:"Liberation Serif",serif;font-size:32px' textLength="98.1" lengthAdjust="spacingAndGlyphs">events,</text>
<text x="2027.8" y="33.6" style='font-family:"Liberation Serif",serif;font-size:32px' textLength="23.4" lengthAdjust="spacingAndGlyphs">=</text>
<text x="2064.6" y="33.6" style='font-family:"Liberation Serif",serif;font-size:32px' textLength="88.4" lengthAdjust="spacingAndGlyphs">13 TeV</text>
<text x="1976.5" y="39.6" style='font-family:"Liberation Serif",serif;font-size:39px'>√</text>
<line x1="1995.5" x2="2018.5" y1="6.6" y2="6.6" stroke="#000" stroke-width="2"/>
<text x="1998.5" y="33.6" style='font-family:"Liberation Serif",serif;font-size:32px;font-style:italic'>s</text>
<text x="1296" y="33.6" style='font-family:"Liberation Serif",serif;font-size:32px;font-style:italic'>ϵ</text>
<text x="179.2" y="1038" style='font-family:"Liberation Serif",serif;font-size:32px' textLength="503.7" lengthAdjust="spacingAndGlyphs">from charged particles, lepton+jets</text>
<text x="692.7" y="1038" style='font-family:"Liberation Serif",serif;font-size:32px' textLength="20.9" lengthAdjust="spacingAndGlyphs">tt̄</text>
<text x="723.4" y="1038" style='font-family:"Liberation Serif",serif;font-size:32px' textLength="98.1" lengthAdjust="spacingAndGlyphs">events,</text>
<text x="886.5" y="1038" style='font-family:"Liberation Serif",serif;font-size:32px' textLength="23.4" lengthAdjust="spacingAndGlyphs">=</text>
<text x="923.3" y="1038" style='font-family:"Liberation Serif",serif;font-size:32px' textLength="88.4" lengthAdjust="spacingAndGlyphs">13 TeV</text>
<text x="835.2" y="1044" style='font-family:"Liberation Serif",serif;font-size:39px'>√</text>
<line x1="854.2" x2="877.2" y1="1011" y2="1011" stroke="#000" stroke-width="2"/>
<text x="857.2" y="1038" style='font-family:"Liberation Serif",serif;font-size:32px;font-style:italic'>s</text>
<text x="139" y="1038" style='font-family:"Liberation Serif",serif;font-size:32px;font-style:italic'>z</text><text x="154" y="1047" style='font-family:"Liberation Serif",serif;font-size:22px'>g</text>
<text x="1359" y="1037.7" style='font-family:"Liberation Serif",serif;font-size:32px' textLength="503.7" lengthAdjust="spacingAndGlyphs">from charged particles, lepton+jets</text>
<text x="1872.5" y="1037.7" style='font-family:"Liberation Serif",serif;font-size:32px' textLength="20.9" lengthAdjust="spacingAndGlyphs">tt̄</text>
<text x="1903.2" y="1037.7" style='font-family:"Liberation Serif",serif;font-size:32px' textLength="98.1" lengthAdjust="spacingAndGlyphs">events,</text>
<text x="2066.3" y="1037.7" style='font-family:"Liberation Serif",serif;font-size:32px' textLength="23.4" lengthAdjust="spacingAndGlyphs">=</text>
<text x="2103.1" y="1037.7" style='font-family:"Liberation Serif",serif;font-size:32px' textLength="88.4" lengthAdjust="spacingAndGlyphs">13 TeV</text>
<text x="2015" y="1043.7" style='font-family:"Liberation Serif",serif;font-size:39px'>√</text>
<line x1="2034" x2="2057" y1="1010.7" y2="1010.7" stroke="#000" stroke-width="2"/>
<text x="2037" y="1037.7" style='font-family:"Liberation Serif",serif;font-size:32px;font-style:italic'>s</text>
<text x="1289" y="1037.7" style='font-family:"Liberation Serif",serif;font-size:32px'>Δ</text><text x="1312" y="1037.7" style='font-family:"Liberation Serif",serif;font-size:32px;font-style:italic'>R</text><text x="1334" y="1046" style='font-family:"Liberation Serif",serif;font-size:22px'>g</text>
<g style='font-family:"Liberation Serif",serif'>
<text x="954.5" y="974.2" style="font-size:40px;font-style:italic">λ</text>
<text x="978" y="957" style="font-size:27px">0</text><text x="978" y="984" style="font-size:27px">0</text>
<text x="1006" y="974.2" style="font-size:40px" textLength="56" lengthAdjust="spacingAndGlyphs">(N)</text>
<text x="2197" y="975.2" style="font-size:40px;font-style:italic">ε</text>
<text x="1020" y="1979.5" style="font-size:40px;font-style:italic">z</text>
<text x="1039" y="1990" style="font-size:28px;font-style:italic">g</text>
<text x="2133" y="1978.6" style="font-size:40px">Δ</text>
<text x="2158" y="1978.6" style="font-size:40px;font-style:italic">R</text>
<text x="2186" y="1990" style="font-size:28px;font-style:italic">g</text>
</g>
<g transform="translate(40,372) rotate(-90)" style='font-family:"Liberation Serif",serif;font-size:39px'><text x="0" y="0" textLength="305.5" lengthAdjust="spacingAndGlyphs">1/N dN/d<tspan font-style="italic">λ</tspan><tspan font-size="30" dy="11">0</tspan><tspan font-size="30" dy="-29" dx="-15">0</tspan><tspan dy="18"> (N)</tspan></text></g>
<g transform="translate(1188.8,276.6) rotate(-90)" style='font-family:"Liberation Serif",serif;font-size:39px'><text x="0" y="0" textLength="204.6" lengthAdjust="spacingAndGlyphs">1/N dN/d<tspan font-style="italic">ε</tspan></text></g>
<g transform="translate(31.9,1302.1) rotate(-90)" style='font-family:"Liberation Serif",serif;font-size:39px'><text x="0" y="0" textLength="224.7" lengthAdjust="spacingAndGlyphs">1/N dN/d<tspan font-style="italic">z</tspan><tspan font-size="26" dy="8" font-style="italic">g</tspan></text></g>
<g transform="translate(1181.2,1339.6) rotate(-90)" style='font-family:"Liberation Serif",serif;font-size:39px'><text x="0" y="0" textLength="260.6" lengthAdjust="spacingAndGlyphs">1/N dN/dΔ<tspan font-style="italic">R</tspan><tspan font-size="26" dy="8" font-style="italic">g</tspan></text></g>
<g transform="translate(54.4,757.8) rotate(-90)" style='font-family:"Liberation Serif",serif;font-size:49px'><text x="0" y="0" text-anchor="middle" textLength="203.6" lengthAdjust="spacingAndGlyphs">MC/Data</text></g>
<g transform="translate(1203.4,757.8) rotate(-90)" style='font-family:"Liberation Serif",serif;font-size:49px'><text x="0" y="0" text-anchor="middle" textLength="203.6" lengthAdjust="spacingAndGlyphs">MC/Data</text></g>
<g transform="translate(47.4,1762.5) rotate(-90)" style='font-family:"Liberation Serif",serif;font-size:49px'><text x="0" y="0" text-anchor="middle" textLength="203.6" lengthAdjust="spacingAndGlyphs">MC/Data</text></g>
<g transform="translate(1196.4,1762.5) rotate(-90)" style='font-family:"Liberation Serif",serif;font-size:49px'><text x="0" y="0" text-anchor="middle" textLength="203.6" lengthAdjust="spacingAndGlyphs">MC/Data</text></g>
</svg></body></html>
